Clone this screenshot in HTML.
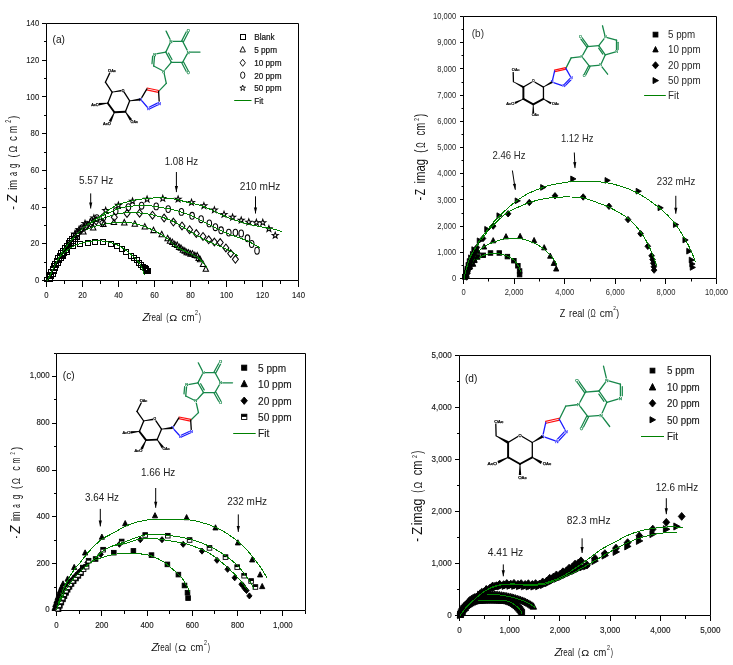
<!DOCTYPE html><html><head><meta charset="utf-8"><style>html,body{margin:0;padding:0;background:#fff;overflow:hidden}svg{display:block;will-change:transform}text{font-family:"Liberation Sans",sans-serif}.ns line{vector-effect:non-scaling-stroke}</style></head><body>
<svg width="733" height="665" viewBox="0 0 733 665">
<rect width="733" height="665" fill="#fff"/>
<path d="M46.5,280.5 L46.5,23.5 L298.5,23.5 L298.5,280.5 Z" fill="none" stroke="#000" stroke-width="1"/>
<line x1="46.50" y1="280.50" x2="46.50" y2="287.00" stroke="#000" stroke-width="1"/>
<line x1="64.50" y1="280.50" x2="64.50" y2="284.00" stroke="#000" stroke-width="1"/>
<line x1="82.50" y1="280.50" x2="82.50" y2="287.00" stroke="#000" stroke-width="1"/>
<line x1="100.50" y1="280.50" x2="100.50" y2="284.00" stroke="#000" stroke-width="1"/>
<line x1="118.50" y1="280.50" x2="118.50" y2="287.00" stroke="#000" stroke-width="1"/>
<line x1="136.50" y1="280.50" x2="136.50" y2="284.00" stroke="#000" stroke-width="1"/>
<line x1="154.50" y1="280.50" x2="154.50" y2="287.00" stroke="#000" stroke-width="1"/>
<line x1="172.50" y1="280.50" x2="172.50" y2="284.00" stroke="#000" stroke-width="1"/>
<line x1="190.50" y1="280.50" x2="190.50" y2="287.00" stroke="#000" stroke-width="1"/>
<line x1="208.50" y1="280.50" x2="208.50" y2="284.00" stroke="#000" stroke-width="1"/>
<line x1="226.50" y1="280.50" x2="226.50" y2="287.00" stroke="#000" stroke-width="1"/>
<line x1="244.50" y1="280.50" x2="244.50" y2="284.00" stroke="#000" stroke-width="1"/>
<line x1="262.50" y1="280.50" x2="262.50" y2="287.00" stroke="#000" stroke-width="1"/>
<line x1="280.50" y1="280.50" x2="280.50" y2="284.00" stroke="#000" stroke-width="1"/>
<line x1="298.50" y1="280.50" x2="298.50" y2="287.00" stroke="#000" stroke-width="1"/>
<line x1="42.00" y1="280.50" x2="46.50" y2="280.50" stroke="#000" stroke-width="1"/>
<line x1="44.00" y1="262.50" x2="46.50" y2="262.50" stroke="#000" stroke-width="1"/>
<line x1="42.00" y1="243.50" x2="46.50" y2="243.50" stroke="#000" stroke-width="1"/>
<line x1="44.00" y1="225.50" x2="46.50" y2="225.50" stroke="#000" stroke-width="1"/>
<line x1="42.00" y1="207.50" x2="46.50" y2="207.50" stroke="#000" stroke-width="1"/>
<line x1="44.00" y1="188.50" x2="46.50" y2="188.50" stroke="#000" stroke-width="1"/>
<line x1="42.00" y1="170.50" x2="46.50" y2="170.50" stroke="#000" stroke-width="1"/>
<line x1="44.00" y1="152.50" x2="46.50" y2="152.50" stroke="#000" stroke-width="1"/>
<line x1="42.00" y1="133.50" x2="46.50" y2="133.50" stroke="#000" stroke-width="1"/>
<line x1="44.00" y1="115.50" x2="46.50" y2="115.50" stroke="#000" stroke-width="1"/>
<line x1="42.00" y1="96.50" x2="46.50" y2="96.50" stroke="#000" stroke-width="1"/>
<line x1="44.00" y1="78.50" x2="46.50" y2="78.50" stroke="#000" stroke-width="1"/>
<line x1="42.00" y1="60.50" x2="46.50" y2="60.50" stroke="#000" stroke-width="1"/>
<line x1="44.00" y1="41.50" x2="46.50" y2="41.50" stroke="#000" stroke-width="1"/>
<line x1="42.00" y1="23.50" x2="46.50" y2="23.50" stroke="#000" stroke-width="1"/>
<text x="44.35" y="298.00" font-size="9.1" fill="#1a1a1a" textLength="4.30" lengthAdjust="spacingAndGlyphs" stroke="#1a1a1a" stroke-width="0.12">0</text>
<text x="78.20" y="298.00" font-size="9.1" fill="#1a1a1a" textLength="8.60" lengthAdjust="spacingAndGlyphs" stroke="#1a1a1a" stroke-width="0.12">20</text>
<text x="114.20" y="298.00" font-size="9.1" fill="#1a1a1a" textLength="8.60" lengthAdjust="spacingAndGlyphs" stroke="#1a1a1a" stroke-width="0.12">40</text>
<text x="150.20" y="298.00" font-size="9.1" fill="#1a1a1a" textLength="8.60" lengthAdjust="spacingAndGlyphs" stroke="#1a1a1a" stroke-width="0.12">60</text>
<text x="186.20" y="298.00" font-size="9.1" fill="#1a1a1a" textLength="8.60" lengthAdjust="spacingAndGlyphs" stroke="#1a1a1a" stroke-width="0.12">80</text>
<text x="220.05" y="298.00" font-size="9.1" fill="#1a1a1a" textLength="12.90" lengthAdjust="spacingAndGlyphs" stroke="#1a1a1a" stroke-width="0.12">100</text>
<text x="256.05" y="298.00" font-size="9.1" fill="#1a1a1a" textLength="12.90" lengthAdjust="spacingAndGlyphs" stroke="#1a1a1a" stroke-width="0.12">120</text>
<text x="292.05" y="298.00" font-size="9.1" fill="#1a1a1a" textLength="12.90" lengthAdjust="spacingAndGlyphs" stroke="#1a1a1a" stroke-width="0.12">140</text>
<text x="34.90" y="283.10" font-size="9.1" fill="#1a1a1a" textLength="4.30" lengthAdjust="spacingAndGlyphs" stroke="#1a1a1a" stroke-width="0.12">0</text>
<text x="30.60" y="246.39" font-size="9.1" fill="#1a1a1a" textLength="8.60" lengthAdjust="spacingAndGlyphs" stroke="#1a1a1a" stroke-width="0.12">20</text>
<text x="30.60" y="209.67" font-size="9.1" fill="#1a1a1a" textLength="8.60" lengthAdjust="spacingAndGlyphs" stroke="#1a1a1a" stroke-width="0.12">40</text>
<text x="30.60" y="172.96" font-size="9.1" fill="#1a1a1a" textLength="8.60" lengthAdjust="spacingAndGlyphs" stroke="#1a1a1a" stroke-width="0.12">60</text>
<text x="30.60" y="136.24" font-size="9.1" fill="#1a1a1a" textLength="8.60" lengthAdjust="spacingAndGlyphs" stroke="#1a1a1a" stroke-width="0.12">80</text>
<text x="26.30" y="99.53" font-size="9.1" fill="#1a1a1a" textLength="12.90" lengthAdjust="spacingAndGlyphs" stroke="#1a1a1a" stroke-width="0.12">100</text>
<text x="26.30" y="62.81" font-size="9.1" fill="#1a1a1a" textLength="12.90" lengthAdjust="spacingAndGlyphs" stroke="#1a1a1a" stroke-width="0.12">120</text>
<text x="26.30" y="26.10" font-size="9.1" fill="#1a1a1a" textLength="12.90" lengthAdjust="spacingAndGlyphs" stroke="#1a1a1a" stroke-width="0.12">140</text>
<path d="M463.5,278.5 L463.5,16.5 L716.5,16.5 L716.5,278.5 Z" fill="none" stroke="#000" stroke-width="1"/>
<line x1="463.50" y1="278.50" x2="463.50" y2="284.00" stroke="#000" stroke-width="1"/>
<line x1="488.50" y1="278.50" x2="488.50" y2="281.50" stroke="#000" stroke-width="1"/>
<line x1="514.50" y1="278.50" x2="514.50" y2="284.00" stroke="#000" stroke-width="1"/>
<line x1="539.50" y1="278.50" x2="539.50" y2="281.50" stroke="#000" stroke-width="1"/>
<line x1="564.50" y1="278.50" x2="564.50" y2="284.00" stroke="#000" stroke-width="1"/>
<line x1="590.50" y1="278.50" x2="590.50" y2="281.50" stroke="#000" stroke-width="1"/>
<line x1="615.50" y1="278.50" x2="615.50" y2="284.00" stroke="#000" stroke-width="1"/>
<line x1="640.50" y1="278.50" x2="640.50" y2="281.50" stroke="#000" stroke-width="1"/>
<line x1="665.50" y1="278.50" x2="665.50" y2="284.00" stroke="#000" stroke-width="1"/>
<line x1="691.50" y1="278.50" x2="691.50" y2="281.50" stroke="#000" stroke-width="1"/>
<line x1="716.50" y1="278.50" x2="716.50" y2="284.00" stroke="#000" stroke-width="1"/>
<line x1="460.00" y1="278.50" x2="463.50" y2="278.50" stroke="#000" stroke-width="1"/>
<line x1="461.50" y1="265.50" x2="463.50" y2="265.50" stroke="#000" stroke-width="1"/>
<line x1="460.00" y1="252.50" x2="463.50" y2="252.50" stroke="#000" stroke-width="1"/>
<line x1="461.50" y1="239.50" x2="463.50" y2="239.50" stroke="#000" stroke-width="1"/>
<line x1="460.00" y1="226.50" x2="463.50" y2="226.50" stroke="#000" stroke-width="1"/>
<line x1="461.50" y1="213.50" x2="463.50" y2="213.50" stroke="#000" stroke-width="1"/>
<line x1="460.00" y1="199.50" x2="463.50" y2="199.50" stroke="#000" stroke-width="1"/>
<line x1="461.50" y1="186.50" x2="463.50" y2="186.50" stroke="#000" stroke-width="1"/>
<line x1="460.00" y1="173.50" x2="463.50" y2="173.50" stroke="#000" stroke-width="1"/>
<line x1="461.50" y1="160.50" x2="463.50" y2="160.50" stroke="#000" stroke-width="1"/>
<line x1="460.00" y1="147.50" x2="463.50" y2="147.50" stroke="#000" stroke-width="1"/>
<line x1="461.50" y1="134.50" x2="463.50" y2="134.50" stroke="#000" stroke-width="1"/>
<line x1="460.00" y1="121.50" x2="463.50" y2="121.50" stroke="#000" stroke-width="1"/>
<line x1="461.50" y1="108.50" x2="463.50" y2="108.50" stroke="#000" stroke-width="1"/>
<line x1="460.00" y1="95.50" x2="463.50" y2="95.50" stroke="#000" stroke-width="1"/>
<line x1="461.50" y1="82.50" x2="463.50" y2="82.50" stroke="#000" stroke-width="1"/>
<line x1="460.00" y1="68.50" x2="463.50" y2="68.50" stroke="#000" stroke-width="1"/>
<line x1="461.50" y1="55.50" x2="463.50" y2="55.50" stroke="#000" stroke-width="1"/>
<line x1="460.00" y1="42.50" x2="463.50" y2="42.50" stroke="#000" stroke-width="1"/>
<line x1="461.50" y1="29.50" x2="463.50" y2="29.50" stroke="#000" stroke-width="1"/>
<line x1="460.00" y1="16.50" x2="463.50" y2="16.50" stroke="#000" stroke-width="1"/>
<text x="461.40" y="295.10" font-size="8.3" fill="#2a2a2a" textLength="4.20" lengthAdjust="spacingAndGlyphs">0</text>
<text x="504.65" y="295.10" font-size="8.3" fill="#2a2a2a" textLength="18.90" lengthAdjust="spacingAndGlyphs">2,000</text>
<text x="555.25" y="295.10" font-size="8.3" fill="#2a2a2a" textLength="18.90" lengthAdjust="spacingAndGlyphs">4,000</text>
<text x="605.85" y="295.10" font-size="8.3" fill="#2a2a2a" textLength="18.90" lengthAdjust="spacingAndGlyphs">6,000</text>
<text x="656.45" y="295.10" font-size="8.3" fill="#2a2a2a" textLength="18.90" lengthAdjust="spacingAndGlyphs">8,000</text>
<text x="704.95" y="295.10" font-size="8.3" fill="#2a2a2a" textLength="23.10" lengthAdjust="spacingAndGlyphs">10,000</text>
<text x="452.00" y="281.20" font-size="8.3" fill="#2a2a2a" textLength="4.20" lengthAdjust="spacingAndGlyphs">0</text>
<text x="437.30" y="255.00" font-size="8.3" fill="#2a2a2a" textLength="18.90" lengthAdjust="spacingAndGlyphs">1,000</text>
<text x="437.30" y="228.80" font-size="8.3" fill="#2a2a2a" textLength="18.90" lengthAdjust="spacingAndGlyphs">2,000</text>
<text x="437.30" y="202.60" font-size="8.3" fill="#2a2a2a" textLength="18.90" lengthAdjust="spacingAndGlyphs">3,000</text>
<text x="437.30" y="176.40" font-size="8.3" fill="#2a2a2a" textLength="18.90" lengthAdjust="spacingAndGlyphs">4,000</text>
<text x="437.30" y="150.20" font-size="8.3" fill="#2a2a2a" textLength="18.90" lengthAdjust="spacingAndGlyphs">5,000</text>
<text x="437.30" y="124.00" font-size="8.3" fill="#2a2a2a" textLength="18.90" lengthAdjust="spacingAndGlyphs">6,000</text>
<text x="437.30" y="97.80" font-size="8.3" fill="#2a2a2a" textLength="18.90" lengthAdjust="spacingAndGlyphs">7,000</text>
<text x="437.30" y="71.60" font-size="8.3" fill="#2a2a2a" textLength="18.90" lengthAdjust="spacingAndGlyphs">8,000</text>
<text x="437.30" y="45.40" font-size="8.3" fill="#2a2a2a" textLength="18.90" lengthAdjust="spacingAndGlyphs">9,000</text>
<text x="433.10" y="19.20" font-size="8.3" fill="#2a2a2a" textLength="23.10" lengthAdjust="spacingAndGlyphs">10,000</text>
<path d="M56.5,610.5 L56.5,353.5 L305.5,353.5 L305.5,610.5 Z" fill="none" stroke="#000" stroke-width="1"/>
<line x1="56.50" y1="610.50" x2="56.50" y2="616.00" stroke="#000" stroke-width="1"/>
<line x1="79.50" y1="610.50" x2="79.50" y2="614.00" stroke="#000" stroke-width="1"/>
<line x1="101.50" y1="610.50" x2="101.50" y2="616.00" stroke="#000" stroke-width="1"/>
<line x1="124.50" y1="610.50" x2="124.50" y2="614.00" stroke="#000" stroke-width="1"/>
<line x1="147.50" y1="610.50" x2="147.50" y2="616.00" stroke="#000" stroke-width="1"/>
<line x1="169.50" y1="610.50" x2="169.50" y2="614.00" stroke="#000" stroke-width="1"/>
<line x1="192.50" y1="610.50" x2="192.50" y2="616.00" stroke="#000" stroke-width="1"/>
<line x1="214.50" y1="610.50" x2="214.50" y2="614.00" stroke="#000" stroke-width="1"/>
<line x1="237.50" y1="610.50" x2="237.50" y2="616.00" stroke="#000" stroke-width="1"/>
<line x1="260.50" y1="610.50" x2="260.50" y2="614.00" stroke="#000" stroke-width="1"/>
<line x1="282.50" y1="610.50" x2="282.50" y2="616.00" stroke="#000" stroke-width="1"/>
<line x1="305.50" y1="610.50" x2="305.50" y2="614.00" stroke="#000" stroke-width="1"/>
<line x1="52.00" y1="610.50" x2="56.50" y2="610.50" stroke="#000" stroke-width="1"/>
<line x1="54.00" y1="587.50" x2="56.50" y2="587.50" stroke="#000" stroke-width="1"/>
<line x1="52.00" y1="563.50" x2="56.50" y2="563.50" stroke="#000" stroke-width="1"/>
<line x1="54.00" y1="540.50" x2="56.50" y2="540.50" stroke="#000" stroke-width="1"/>
<line x1="52.00" y1="516.50" x2="56.50" y2="516.50" stroke="#000" stroke-width="1"/>
<line x1="54.00" y1="493.50" x2="56.50" y2="493.50" stroke="#000" stroke-width="1"/>
<line x1="52.00" y1="470.50" x2="56.50" y2="470.50" stroke="#000" stroke-width="1"/>
<line x1="54.00" y1="446.50" x2="56.50" y2="446.50" stroke="#000" stroke-width="1"/>
<line x1="52.00" y1="423.50" x2="56.50" y2="423.50" stroke="#000" stroke-width="1"/>
<line x1="54.00" y1="399.50" x2="56.50" y2="399.50" stroke="#000" stroke-width="1"/>
<line x1="52.00" y1="376.50" x2="56.50" y2="376.50" stroke="#000" stroke-width="1"/>
<line x1="54.00" y1="353.50" x2="56.50" y2="353.50" stroke="#000" stroke-width="1"/>
<text x="54.30" y="627.80" font-size="9.4" fill="#1a1a1a" textLength="4.39" lengthAdjust="spacingAndGlyphs" stroke="#1a1a1a" stroke-width="0.15">0</text>
<text x="95.19" y="627.80" font-size="9.4" fill="#1a1a1a" textLength="13.17" lengthAdjust="spacingAndGlyphs" stroke="#1a1a1a" stroke-width="0.15">200</text>
<text x="140.46" y="627.80" font-size="9.4" fill="#1a1a1a" textLength="13.17" lengthAdjust="spacingAndGlyphs" stroke="#1a1a1a" stroke-width="0.15">400</text>
<text x="185.73" y="627.80" font-size="9.4" fill="#1a1a1a" textLength="13.17" lengthAdjust="spacingAndGlyphs" stroke="#1a1a1a" stroke-width="0.15">600</text>
<text x="231.00" y="627.80" font-size="9.4" fill="#1a1a1a" textLength="13.17" lengthAdjust="spacingAndGlyphs" stroke="#1a1a1a" stroke-width="0.15">800</text>
<text x="272.99" y="627.80" font-size="9.4" fill="#1a1a1a" textLength="19.76" lengthAdjust="spacingAndGlyphs" stroke="#1a1a1a" stroke-width="0.15">1,000</text>
<text x="45.21" y="612.40" font-size="9.4" fill="#1a1a1a" textLength="4.39" lengthAdjust="spacingAndGlyphs" stroke="#1a1a1a" stroke-width="0.15">0</text>
<text x="36.43" y="565.60" font-size="9.4" fill="#1a1a1a" textLength="13.17" lengthAdjust="spacingAndGlyphs" stroke="#1a1a1a" stroke-width="0.15">200</text>
<text x="36.43" y="518.80" font-size="9.4" fill="#1a1a1a" textLength="13.17" lengthAdjust="spacingAndGlyphs" stroke="#1a1a1a" stroke-width="0.15">400</text>
<text x="36.43" y="472.00" font-size="9.4" fill="#1a1a1a" textLength="13.17" lengthAdjust="spacingAndGlyphs" stroke="#1a1a1a" stroke-width="0.15">600</text>
<text x="36.43" y="425.20" font-size="9.4" fill="#1a1a1a" textLength="13.17" lengthAdjust="spacingAndGlyphs" stroke="#1a1a1a" stroke-width="0.15">800</text>
<text x="29.84" y="378.40" font-size="9.4" fill="#1a1a1a" textLength="19.76" lengthAdjust="spacingAndGlyphs" stroke="#1a1a1a" stroke-width="0.15">1,000</text>
<path d="M459.5,615.5 L459.5,355.5 L710.5,355.5 L710.5,615.5 Z" fill="none" stroke="#000" stroke-width="1"/>
<line x1="459.50" y1="615.50" x2="459.50" y2="621.00" stroke="#000" stroke-width="1"/>
<line x1="484.50" y1="615.50" x2="484.50" y2="619.00" stroke="#000" stroke-width="1"/>
<line x1="509.50" y1="615.50" x2="509.50" y2="621.00" stroke="#000" stroke-width="1"/>
<line x1="534.50" y1="615.50" x2="534.50" y2="619.00" stroke="#000" stroke-width="1"/>
<line x1="559.50" y1="615.50" x2="559.50" y2="621.00" stroke="#000" stroke-width="1"/>
<line x1="585.50" y1="615.50" x2="585.50" y2="619.00" stroke="#000" stroke-width="1"/>
<line x1="610.50" y1="615.50" x2="610.50" y2="621.00" stroke="#000" stroke-width="1"/>
<line x1="635.50" y1="615.50" x2="635.50" y2="619.00" stroke="#000" stroke-width="1"/>
<line x1="660.50" y1="615.50" x2="660.50" y2="621.00" stroke="#000" stroke-width="1"/>
<line x1="685.50" y1="615.50" x2="685.50" y2="619.00" stroke="#000" stroke-width="1"/>
<line x1="710.50" y1="615.50" x2="710.50" y2="621.00" stroke="#000" stroke-width="1"/>
<line x1="455.00" y1="615.50" x2="459.50" y2="615.50" stroke="#000" stroke-width="1"/>
<line x1="457.00" y1="589.50" x2="459.50" y2="589.50" stroke="#000" stroke-width="1"/>
<line x1="455.00" y1="563.50" x2="459.50" y2="563.50" stroke="#000" stroke-width="1"/>
<line x1="457.00" y1="537.50" x2="459.50" y2="537.50" stroke="#000" stroke-width="1"/>
<line x1="455.00" y1="511.50" x2="459.50" y2="511.50" stroke="#000" stroke-width="1"/>
<line x1="457.00" y1="485.50" x2="459.50" y2="485.50" stroke="#000" stroke-width="1"/>
<line x1="455.00" y1="459.50" x2="459.50" y2="459.50" stroke="#000" stroke-width="1"/>
<line x1="457.00" y1="433.50" x2="459.50" y2="433.50" stroke="#000" stroke-width="1"/>
<line x1="455.00" y1="407.50" x2="459.50" y2="407.50" stroke="#000" stroke-width="1"/>
<line x1="457.00" y1="381.50" x2="459.50" y2="381.50" stroke="#000" stroke-width="1"/>
<line x1="455.00" y1="355.50" x2="459.50" y2="355.50" stroke="#000" stroke-width="1"/>
<text x="457.25" y="632.50" font-size="9.0" fill="#1a1a1a" textLength="4.50" lengthAdjust="spacingAndGlyphs" stroke="#1a1a1a" stroke-width="0.15">0</text>
<text x="499.57" y="632.50" font-size="9.0" fill="#1a1a1a" textLength="20.27" lengthAdjust="spacingAndGlyphs" stroke="#1a1a1a" stroke-width="0.15">1,000</text>
<text x="549.77" y="632.50" font-size="9.0" fill="#1a1a1a" textLength="20.27" lengthAdjust="spacingAndGlyphs" stroke="#1a1a1a" stroke-width="0.15">2,000</text>
<text x="599.97" y="632.50" font-size="9.0" fill="#1a1a1a" textLength="20.27" lengthAdjust="spacingAndGlyphs" stroke="#1a1a1a" stroke-width="0.15">3,000</text>
<text x="650.17" y="632.50" font-size="9.0" fill="#1a1a1a" textLength="20.27" lengthAdjust="spacingAndGlyphs" stroke="#1a1a1a" stroke-width="0.15">4,000</text>
<text x="700.37" y="632.50" font-size="9.0" fill="#1a1a1a" textLength="20.27" lengthAdjust="spacingAndGlyphs" stroke="#1a1a1a" stroke-width="0.15">5,000</text>
<text x="447.30" y="617.80" font-size="9.0" fill="#1a1a1a" textLength="4.50" lengthAdjust="spacingAndGlyphs" stroke="#1a1a1a" stroke-width="0.15">0</text>
<text x="431.53" y="565.80" font-size="9.0" fill="#1a1a1a" textLength="20.27" lengthAdjust="spacingAndGlyphs" stroke="#1a1a1a" stroke-width="0.15">1,000</text>
<text x="431.53" y="513.80" font-size="9.0" fill="#1a1a1a" textLength="20.27" lengthAdjust="spacingAndGlyphs" stroke="#1a1a1a" stroke-width="0.15">2,000</text>
<text x="431.53" y="461.80" font-size="9.0" fill="#1a1a1a" textLength="20.27" lengthAdjust="spacingAndGlyphs" stroke="#1a1a1a" stroke-width="0.15">3,000</text>
<text x="431.53" y="409.80" font-size="9.0" fill="#1a1a1a" textLength="20.27" lengthAdjust="spacingAndGlyphs" stroke="#1a1a1a" stroke-width="0.15">4,000</text>
<text x="431.53" y="357.80" font-size="9.0" fill="#1a1a1a" textLength="20.27" lengthAdjust="spacingAndGlyphs" stroke="#1a1a1a" stroke-width="0.15">5,000</text>
<text x="52.60" y="42.50" font-size="11" fill="#111" textLength="12.37" lengthAdjust="spacingAndGlyphs">(a)</text>
<text x="471.80" y="37.20" font-size="10.5" fill="#333" textLength="12.19" lengthAdjust="spacingAndGlyphs">(b)</text>
<text x="62.80" y="378.80" font-size="11" fill="#111" textLength="11.80" lengthAdjust="spacingAndGlyphs">(c)</text>
<text x="465.00" y="381.80" font-size="11" fill="#111" textLength="12.37" lengthAdjust="spacingAndGlyphs">(d)</text>
<text transform="translate(16.90,209.80) rotate(-90) scale(0.8926,1)" x="-0.00" y="0" font-size="12.9" fill="#111">-</text>
<text transform="translate(16.90,202.80) rotate(-90) scale(0.9091,1)" x="0.28" y="0" font-size="14" fill="#111" font-style="italic">Z</text>
<text transform="translate(16.90,189.80) rotate(-90) scale(0.7240,1)" x="-0.00" y="0" font-size="12.9" fill="#111">im</text>
<text transform="translate(16.90,176.10) rotate(-90) scale(0.5537,1)" x="-0.00" y="0" font-size="12.9" fill="#111">a</text>
<text transform="translate(16.90,168.10) rotate(-90) scale(0.5814,1)" x="-0.00" y="0" font-size="12.9" fill="#111">g</text>
<text transform="translate(16.90,157.60) rotate(-90) scale(0.7282,1)" x="-0.00" y="0" font-size="12.9" fill="#111">(</text>
<text transform="translate(16.90,152.60) rotate(-90) scale(0.8428,1)" x="-0.00" y="0" font-size="10.6" fill="#111">Ω</text>
<text transform="translate(16.90,140.90) rotate(-90) scale(0.7597,1)" x="-0.00" y="0" font-size="12.9" fill="#111">c</text>
<text transform="translate(16.90,133.00) rotate(-90) scale(0.6538,1)" x="-0.00" y="0" font-size="12.9" fill="#111">m</text>
<text transform="translate(11.10,122.70) rotate(-90) scale(0.6165,1)" x="-0.00" y="0" font-size="8.4" fill="#111">2</text>
<text transform="translate(16.90,118.80) rotate(-90) scale(0.6812,1)" x="-0.00" y="0" font-size="12.9" fill="#111">)</text>
<text transform="translate(425.20,200.60) rotate(-90) scale(0.7682,1)" x="-0.00" y="0" font-size="14.2" fill="#111">-</text>
<text transform="translate(425.20,195.20) rotate(-90) scale(0.7389,1)" x="-0.00" y="0" font-size="14.2" fill="#111">Z</text>
<text transform="translate(425.20,183.40) rotate(-90) scale(0.7983,1)" x="-0.00" y="0" font-size="14.2" fill="#111">imag</text>
<text transform="translate(425.20,152.80) rotate(-90) scale(0.6829,1)" x="-0.00" y="0" font-size="14.2" fill="#111">(</text>
<text transform="translate(425.20,147.80) rotate(-90) scale(0.5902,1)" x="-0.00" y="0" font-size="12.2" fill="#111">Ω</text>
<text transform="translate(425.20,135.60) rotate(-90) scale(0.6672,1)" x="-0.00" y="0" font-size="14.2" fill="#111">cm</text>
<text transform="translate(419.30,120.80) rotate(-90) scale(0.6181,1)" x="-0.00" y="0" font-size="7.8" fill="#111">2</text>
<text transform="translate(425.20,117.10) rotate(-90) scale(0.6615,1)" x="-0.00" y="0" font-size="14.2" fill="#111">)</text>
<text transform="translate(20.10,538.20) rotate(-90) scale(0.5168,1)" x="-0.00" y="0" font-size="12.9" fill="#111">-</text>
<text transform="translate(20.10,533.80) rotate(-90) scale(0.9307,1)" x="0.28" y="0" font-size="14" fill="#111" font-style="italic">Z</text>
<text transform="translate(20.10,521.00) rotate(-90) scale(0.6947,1)" x="-0.00" y="0" font-size="12.9" fill="#111">im</text>
<text transform="translate(20.10,507.80) rotate(-90) scale(0.4845,1)" x="-0.00" y="0" font-size="12.9" fill="#111">a</text>
<text transform="translate(20.10,499.30) rotate(-90) scale(0.6229,1)" x="-0.00" y="0" font-size="12.9" fill="#111">g</text>
<text transform="translate(20.10,489.10) rotate(-90) scale(0.7282,1)" x="-0.00" y="0" font-size="12.9" fill="#111">(</text>
<text transform="translate(20.10,484.20) rotate(-90) scale(0.7925,1)" x="-0.00" y="0" font-size="10.6" fill="#111">Ω</text>
<text transform="translate(20.10,470.70) rotate(-90) scale(0.7132,1)" x="-0.00" y="0" font-size="12.9" fill="#111">c</text>
<text transform="translate(20.10,463.40) rotate(-90) scale(0.5417,1)" x="-0.00" y="0" font-size="12.9" fill="#111">m</text>
<text transform="translate(14.60,454.40) rotate(-90) scale(0.5309,1)" x="-0.00" y="0" font-size="7.4" fill="#111">2</text>
<text transform="translate(20.10,449.90) rotate(-90) scale(0.7282,1)" x="-0.00" y="0" font-size="12.9" fill="#111">)</text>
<text transform="translate(422.20,541.70) rotate(-90) scale(0.7786,1)" x="-0.00" y="0" font-size="14.4" fill="#111">-</text>
<text transform="translate(422.20,535.10) rotate(-90) scale(0.9449,1)" x="-0.00" y="0" font-size="14.4" fill="#111">Z</text>
<text transform="translate(422.20,525.20) rotate(-90) scale(0.8481,1)" x="-0.00" y="0" font-size="14.4" fill="#111">imag</text>
<text transform="translate(422.20,492.80) rotate(-90) scale(0.6103,1)" x="-0.00" y="0" font-size="14.4" fill="#111">(</text>
<text transform="translate(422.20,488.60) rotate(-90) scale(0.7571,1)" x="-0.00" y="0" font-size="11.8" fill="#111">Ω</text>
<text transform="translate(422.20,475.20) rotate(-90) scale(0.7728,1)" x="-0.00" y="0" font-size="14.4" fill="#111">cm</text>
<text transform="translate(417.00,457.90) rotate(-90) scale(0.6814,1)" x="-0.00" y="0" font-size="7.6" fill="#111">2</text>
<text transform="translate(422.20,453.70) rotate(-90) scale(0.6313,1)" x="-0.00" y="0" font-size="14.4" fill="#111">)</text>
<text transform="translate(142.30,321.40) scale(0.9535,1)" x="0.23" y="0" font-size="11.6" fill="#111" font-style="italic">Z</text>
<text transform="translate(148.70,321.40) scale(0.7218,1)" x="-0.00" y="0" font-size="11.2" fill="#111">real</text>
<text transform="translate(166.20,321.40) scale(0.6494,1)" x="-0.00" y="0" font-size="11.2" fill="#111">(</text>
<text transform="translate(169.30,321.40) scale(1.0884,1)" x="-0.00" y="0" font-size="9.8" fill="#111">Ω</text>
<text transform="translate(181.60,321.40) scale(0.8660,1)" x="-0.00" y="0" font-size="11.2" fill="#111">cm</text>
<text transform="translate(195.10,315.30) scale(0.7653,1)" x="-0.00" y="0" font-size="7.0" fill="#111">2</text>
<text transform="translate(198.80,321.40) scale(0.5952,1)" x="-0.00" y="0" font-size="11.2" fill="#111">)</text>
<text transform="translate(151.20,651.30) scale(0.9535,1)" x="0.23" y="0" font-size="11.6" fill="#111" font-style="italic">Z</text>
<text transform="translate(157.60,651.30) scale(0.7218,1)" x="-0.00" y="0" font-size="11.2" fill="#111">real</text>
<text transform="translate(175.10,651.30) scale(0.6494,1)" x="-0.00" y="0" font-size="11.2" fill="#111">(</text>
<text transform="translate(178.20,651.30) scale(1.0884,1)" x="-0.00" y="0" font-size="9.8" fill="#111">Ω</text>
<text transform="translate(190.50,651.30) scale(0.8660,1)" x="-0.00" y="0" font-size="11.2" fill="#111">cm</text>
<text transform="translate(204.00,645.20) scale(0.7653,1)" x="-0.00" y="0" font-size="7.0" fill="#111">2</text>
<text transform="translate(207.70,651.30) scale(0.5952,1)" x="-0.00" y="0" font-size="11.2" fill="#111">)</text>
<text transform="translate(554.20,656.40) scale(0.9535,1)" x="0.23" y="0" font-size="11.6" fill="#111" font-style="italic">Z</text>
<text transform="translate(560.60,656.40) scale(0.7218,1)" x="-0.00" y="0" font-size="11.2" fill="#111">real</text>
<text transform="translate(578.10,656.40) scale(0.6494,1)" x="-0.00" y="0" font-size="11.2" fill="#111">(</text>
<text transform="translate(581.20,656.40) scale(1.0884,1)" x="-0.00" y="0" font-size="9.8" fill="#111">Ω</text>
<text transform="translate(593.50,656.40) scale(0.8660,1)" x="-0.00" y="0" font-size="11.2" fill="#111">cm</text>
<text transform="translate(607.00,650.30) scale(0.7653,1)" x="-0.00" y="0" font-size="7.0" fill="#111">2</text>
<text transform="translate(610.70,656.40) scale(0.5952,1)" x="-0.00" y="0" font-size="11.2" fill="#111">)</text>
<text transform="translate(559.80,316.80) scale(0.8272,1)" x="-0.00" y="0" font-size="10.9" fill="#111">Z</text>
<text transform="translate(569.10,316.80) scale(0.8405,1)" x="-0.00" y="0" font-size="10.9" fill="#111">real</text>
<text transform="translate(587.70,316.80) scale(0.6394,1)" x="-0.00" y="0" font-size="10.9" fill="#111">(</text>
<text transform="translate(590.60,316.80) scale(0.6603,1)" x="-0.00" y="0" font-size="10.5" fill="#111">Ω</text>
<text transform="translate(599.70,316.80) scale(0.9243,1)" x="-0.00" y="0" font-size="10.9" fill="#111">cm</text>
<text transform="translate(613.30,310.20) scale(0.7776,1)" x="-0.00" y="0" font-size="6.2" fill="#111">2</text>
<text transform="translate(616.20,316.80) scale(0.7784,1)" x="-0.00" y="0" font-size="10.9" fill="#111">)</text>
<rect x="240.50" y="34.50" width="5.00" height="5.00" fill="none" stroke="#000" stroke-width="1"/>
<text x="254.20" y="40.00" font-size="9.0" fill="#111" textLength="20.49" lengthAdjust="spacingAndGlyphs" stroke="#111" stroke-width="0.2">Blank</text>
<path d="M242.70,46.53 L245.40,51.93 L240.00,51.93Z" fill="none" stroke="#000" stroke-width="0.9"/>
<text x="254.20" y="52.80" font-size="9.0" fill="#111" textLength="22.76" lengthAdjust="spacingAndGlyphs" stroke="#111" stroke-width="0.2">5 ppm</text>
<path d="M242.70,59.29 L245.40,62.80 L242.70,66.31 L240.00,62.80Z" fill="none" stroke="#000" stroke-width="0.9"/>
<text x="254.20" y="66.10" font-size="9.0" fill="#111" textLength="27.31" lengthAdjust="spacingAndGlyphs" stroke="#111" stroke-width="0.2">10 ppm</text>
<ellipse cx="242.70" cy="75.20" rx="2.16" ry="3.24" fill="none" stroke="#000" stroke-width="0.9"/>
<text x="254.20" y="78.50" font-size="9.0" fill="#111" textLength="27.31" lengthAdjust="spacingAndGlyphs" stroke="#111" stroke-width="0.2">20 ppm</text>
<path d="M242.70,85.13 L243.41,87.12 L245.52,87.18 L243.86,88.48 L244.45,90.50 L242.70,89.31 L240.95,90.50 L241.54,88.48 L239.88,87.18 L241.99,87.12Z" fill="none" stroke="#000" stroke-width="0.9"/>
<text x="254.20" y="91.40" font-size="9.0" fill="#111" textLength="27.31" lengthAdjust="spacingAndGlyphs" stroke="#111" stroke-width="0.2">50 ppm</text>
<line x1="234.20" y1="100.50" x2="251.50" y2="100.50" stroke="#008000" stroke-width="1.0"/>
<text x="254.20" y="103.80" font-size="9.0" fill="#111" textLength="9.10" lengthAdjust="spacingAndGlyphs" stroke="#111" stroke-width="0.2">Fit</text>
<rect x="653.10" y="32.20" width="4.80" height="4.80" fill="#000" stroke="#000" stroke-width="0.9"/>
<text x="668.00" y="38.20" font-size="10" fill="#2a2a2a" textLength="27.23" lengthAdjust="spacingAndGlyphs">5 ppm</text>
<path d="M655.50,46.53 L658.20,51.93 L652.80,51.93Z" fill="#000" stroke="#000" stroke-width="0.9"/>
<text x="668.00" y="53.10" font-size="10" fill="#2a2a2a" textLength="32.68" lengthAdjust="spacingAndGlyphs">10 ppm</text>
<path d="M655.50,61.73 L658.60,65.30 L655.50,68.86 L652.40,65.30Z" fill="#000" stroke="#000" stroke-width="0.9"/>
<text x="668.00" y="68.90" font-size="10" fill="#2a2a2a" textLength="32.68" lengthAdjust="spacingAndGlyphs">20 ppm</text>
<path d="M653.02,77.57 L658.52,80.60 L653.02,83.62Z" fill="#000" stroke="#000" stroke-width="0.9"/>
<text x="668.00" y="84.20" font-size="10" fill="#2a2a2a" textLength="32.68" lengthAdjust="spacingAndGlyphs">50 ppm</text>
<line x1="644.10" y1="95.50" x2="665.80" y2="95.50" stroke="#008000" stroke-width="1.0"/>
<text x="668.00" y="98.70" font-size="10" fill="#2a2a2a" textLength="10.89" lengthAdjust="spacingAndGlyphs">Fit</text>
<rect x="241.65" y="365.15" width="5.10" height="5.10" fill="#000" stroke="#000" stroke-width="0.9"/>
<text x="258.10" y="371.50" font-size="10.5" fill="#1a1a1a" textLength="28.01" lengthAdjust="spacingAndGlyphs" stroke="#1a1a1a" stroke-width="0.15">5 ppm</text>
<path d="M244.20,380.28 L247.40,386.68 L241.00,386.68Z" fill="#000" stroke="#000" stroke-width="0.9"/>
<text x="258.10" y="387.60" font-size="10.5" fill="#1a1a1a" textLength="33.62" lengthAdjust="spacingAndGlyphs" stroke="#1a1a1a" stroke-width="0.15">10 ppm</text>
<path d="M244.20,397.02 L247.40,400.70 L244.20,404.38 L241.00,400.70Z" fill="#000" stroke="#000" stroke-width="0.9"/>
<text x="258.10" y="404.50" font-size="10.5" fill="#1a1a1a" textLength="33.62" lengthAdjust="spacingAndGlyphs" stroke="#1a1a1a" stroke-width="0.15">20 ppm</text>
<rect x="241.55" y="414.25" width="5.30" height="5.30" fill="#fff" stroke="#000" stroke-width="0.9"/>
<rect x="241.55" y="414.25" width="5.30" height="2.65" fill="#000"/>
<text x="258.10" y="420.70" font-size="10.5" fill="#1a1a1a" textLength="33.62" lengthAdjust="spacingAndGlyphs" stroke="#1a1a1a" stroke-width="0.15">50 ppm</text>
<line x1="233.20" y1="433.50" x2="255.70" y2="433.50" stroke="#008000" stroke-width="1.0"/>
<text x="258.10" y="437.30" font-size="10.5" fill="#1a1a1a" textLength="11.20" lengthAdjust="spacingAndGlyphs" stroke="#1a1a1a" stroke-width="0.15">Fit</text>
<rect x="650.10" y="368.20" width="4.80" height="4.80" fill="#000" stroke="#000" stroke-width="0.9"/>
<text x="667.10" y="374.30" font-size="10.3" fill="#1a1a1a" textLength="27.19" lengthAdjust="spacingAndGlyphs" stroke="#1a1a1a" stroke-width="0.15">5 ppm</text>
<path d="M652.50,383.53 L655.75,390.03 L649.25,390.03Z" fill="#000" stroke="#000" stroke-width="0.9"/>
<text x="667.10" y="390.80" font-size="10.3" fill="#1a1a1a" textLength="32.63" lengthAdjust="spacingAndGlyphs" stroke="#1a1a1a" stroke-width="0.15">10 ppm</text>
<path d="M652.50,399.56 L655.75,403.30 L652.50,407.04 L649.25,403.30Z" fill="#000" stroke="#000" stroke-width="0.9"/>
<text x="667.10" y="407.00" font-size="10.3" fill="#1a1a1a" textLength="32.63" lengthAdjust="spacingAndGlyphs" stroke="#1a1a1a" stroke-width="0.15">20 ppm</text>
<path d="M649.98,416.72 L655.58,419.80 L649.98,422.88Z" fill="#000" stroke="#000" stroke-width="0.9"/>
<text x="667.10" y="423.50" font-size="10.3" fill="#1a1a1a" textLength="32.63" lengthAdjust="spacingAndGlyphs" stroke="#1a1a1a" stroke-width="0.15">50 ppm</text>
<line x1="641.00" y1="436.50" x2="664.00" y2="436.50" stroke="#008000" stroke-width="1.0"/>
<text x="667.10" y="440.20" font-size="10.3" fill="#1a1a1a" textLength="10.87" lengthAdjust="spacingAndGlyphs" stroke="#1a1a1a" stroke-width="0.15">Fit</text>
<text x="78.90" y="183.90" font-size="11.2" fill="#222" textLength="34.40" lengthAdjust="spacingAndGlyphs">5.57 Hz</text>
<line x1="90.70" y1="193.40" x2="90.70" y2="208.50" stroke="#000" stroke-width="1.0"/>
<path d="M90.70,208.50 L89.10,202.50 L92.30,202.50Z" fill="#000"/>
<text x="164.70" y="164.80" font-size="11.2" fill="#222" textLength="33.40" lengthAdjust="spacingAndGlyphs">1.08 Hz</text>
<line x1="176.40" y1="172.00" x2="176.40" y2="192.10" stroke="#000" stroke-width="1.0"/>
<path d="M176.40,192.10 L174.80,186.10 L178.00,186.10Z" fill="#000"/>
<text x="239.80" y="190.00" font-size="11.2" fill="#222" textLength="40.50" lengthAdjust="spacingAndGlyphs">210 mHz</text>
<line x1="255.50" y1="196.30" x2="255.50" y2="213.50" stroke="#000" stroke-width="1.0"/>
<path d="M255.50,213.50 L253.90,207.50 L257.10,207.50Z" fill="#000"/>
<text x="492.50" y="159.00" font-size="10.5" fill="#2a2a2a" textLength="32.90" lengthAdjust="spacingAndGlyphs">2.46 Hz</text>
<line x1="512.40" y1="170.50" x2="515.30" y2="189.80" stroke="#000" stroke-width="1.0"/>
<path d="M515.30,189.80 L512.83,184.10 L515.99,183.63Z" fill="#000"/>
<text x="561.00" y="142.10" font-size="10.5" fill="#2a2a2a" textLength="32.50" lengthAdjust="spacingAndGlyphs">1.12 Hz</text>
<line x1="574.30" y1="152.50" x2="575.00" y2="168.10" stroke="#000" stroke-width="1.0"/>
<path d="M575.00,168.10 L573.13,162.18 L576.33,162.03Z" fill="#000"/>
<text x="656.80" y="185.30" font-size="10.5" fill="#2a2a2a" textLength="38.60" lengthAdjust="spacingAndGlyphs">232 mHz</text>
<line x1="675.80" y1="195.80" x2="675.80" y2="213.70" stroke="#000" stroke-width="1.0"/>
<path d="M675.80,213.70 L674.20,207.70 L677.40,207.70Z" fill="#000"/>
<text x="85.10" y="500.80" font-size="11.2" fill="#222" textLength="33.80" lengthAdjust="spacingAndGlyphs">3.64 Hz</text>
<line x1="100.30" y1="508.90" x2="100.30" y2="526.40" stroke="#000" stroke-width="1.0"/>
<path d="M100.30,526.40 L98.70,520.40 L101.90,520.40Z" fill="#000"/>
<text x="141.00" y="475.80" font-size="11.2" fill="#222" textLength="34.30" lengthAdjust="spacingAndGlyphs">1.66 Hz</text>
<line x1="155.70" y1="488.00" x2="155.70" y2="507.80" stroke="#000" stroke-width="1.0"/>
<path d="M155.70,507.80 L154.10,501.80 L157.30,501.80Z" fill="#000"/>
<text x="227.20" y="504.60" font-size="11.2" fill="#222" textLength="39.90" lengthAdjust="spacingAndGlyphs">232 mHz</text>
<line x1="238.30" y1="514.40" x2="238.30" y2="531.90" stroke="#000" stroke-width="1.0"/>
<path d="M238.30,531.90 L236.70,525.90 L239.90,525.90Z" fill="#000"/>
<text x="487.80" y="555.70" font-size="11.2" fill="#222" textLength="35.40" lengthAdjust="spacingAndGlyphs">4.41 Hz</text>
<line x1="503.30" y1="564.40" x2="503.30" y2="576.30" stroke="#000" stroke-width="1.0"/>
<path d="M503.30,576.30 L501.70,570.30 L504.90,570.30Z" fill="#000"/>
<text x="566.80" y="524.00" font-size="11.2" fill="#222" textLength="43.70" lengthAdjust="spacingAndGlyphs">82.3 mHz</text>
<line x1="582.10" y1="538.30" x2="582.10" y2="553.00" stroke="#000" stroke-width="1.0"/>
<path d="M582.10,553.00 L580.50,547.00 L583.70,547.00Z" fill="#000"/>
<text x="655.70" y="490.90" font-size="11.2" fill="#222" textLength="42.50" lengthAdjust="spacingAndGlyphs">12.6 mHz</text>
<line x1="666.30" y1="498.20" x2="666.30" y2="514.20" stroke="#000" stroke-width="1.0"/>
<path d="M666.30,514.20 L664.70,508.20 L667.90,508.20Z" fill="#000"/>
<g>
<line x1="171.00" y1="41.30" x2="166.10" y2="31.10" stroke="#17874a" stroke-width="1.3" stroke-linecap="round"/>
<line x1="171.00" y1="41.30" x2="182.60" y2="41.30" stroke="#17874a" stroke-width="1.3" stroke-linecap="round"/>
<line x1="183.49" y1="41.75" x2="188.37" y2="32.18" stroke="#17874a" stroke-width="1.2349999999999999" stroke-linecap="round"/>
<line x1="181.71" y1="40.85" x2="186.58" y2="31.27" stroke="#17874a" stroke-width="1.2349999999999999" stroke-linecap="round"/>
<line x1="182.60" y1="41.30" x2="188.20" y2="52.10" stroke="#17874a" stroke-width="1.3" stroke-linecap="round"/>
<line x1="188.20" y1="52.10" x2="200.00" y2="52.10" stroke="#17874a" stroke-width="1.3" stroke-linecap="round"/>
<line x1="188.20" y1="52.10" x2="182.60" y2="62.30" stroke="#17874a" stroke-width="1.3" stroke-linecap="round"/>
<line x1="181.72" y1="62.77" x2="186.57" y2="71.95" stroke="#17874a" stroke-width="1.2349999999999999" stroke-linecap="round"/>
<line x1="183.48" y1="61.83" x2="188.34" y2="71.02" stroke="#17874a" stroke-width="1.2349999999999999" stroke-linecap="round"/>
<line x1="182.60" y1="62.30" x2="171.30" y2="62.30" stroke="#17874a" stroke-width="1.3" stroke-linecap="round"/>
<line x1="165.80" y1="52.10" x2="171.30" y2="62.30" stroke="#17874a" stroke-width="1.3" stroke-linecap="round"/>
<line x1="168.46" y1="53.03" x2="171.98" y2="59.56" stroke="#17874a" stroke-width="1.2349999999999999" stroke-linecap="round"/>
<line x1="165.80" y1="52.10" x2="171.00" y2="41.30" stroke="#17874a" stroke-width="1.3" stroke-linecap="round"/>
<line x1="165.80" y1="52.10" x2="154.70" y2="54.20" stroke="#17874a" stroke-width="1.3" stroke-linecap="round"/>
<line x1="154.70" y1="54.20" x2="153.70" y2="66.00" stroke="#17874a" stroke-width="1.3" stroke-linecap="round"/>
<line x1="152.63" y1="56.16" x2="151.99" y2="63.72" stroke="#17874a" stroke-width="1.2349999999999999" stroke-linecap="round"/>
<line x1="153.70" y1="66.00" x2="163.70" y2="71.30" stroke="#17874a" stroke-width="1.3" stroke-linecap="round"/>
<line x1="163.70" y1="71.30" x2="171.30" y2="62.30" stroke="#17874a" stroke-width="1.3" stroke-linecap="round"/>
<line x1="163.70" y1="71.30" x2="166.30" y2="83.40" stroke="#17874a" stroke-width="1.3" stroke-linecap="round"/>
<line x1="166.30" y1="83.40" x2="158.60" y2="91.40" stroke="#17874a" stroke-width="1.3" stroke-linecap="round"/>
<rect x="169.36" y="39.62" width="3.29" height="3.36" fill="#fff"/>
<text x="169.56" y="42.74" font-size="4.0" fill="#17874a" textLength="2.89" lengthAdjust="spacingAndGlyphs" stroke="#17874a" stroke-width="0.25">N</text>
<rect x="186.56" y="50.42" width="3.29" height="3.36" fill="#fff"/>
<text x="186.76" y="53.54" font-size="4.0" fill="#17874a" textLength="2.89" lengthAdjust="spacingAndGlyphs" stroke="#17874a" stroke-width="0.25">N</text>
<rect x="153.06" y="52.52" width="3.29" height="3.36" fill="#fff"/>
<text x="153.26" y="55.64" font-size="4.0" fill="#17874a" textLength="2.89" lengthAdjust="spacingAndGlyphs" stroke="#17874a" stroke-width="0.25">N</text>
<rect x="162.06" y="69.62" width="3.29" height="3.36" fill="#fff"/>
<text x="162.26" y="72.74" font-size="4.0" fill="#17874a" textLength="2.89" lengthAdjust="spacingAndGlyphs" stroke="#17874a" stroke-width="0.25">N</text>
<rect x="186.44" y="28.62" width="3.51" height="3.36" fill="#fff"/>
<text x="186.64" y="31.74" font-size="4.0" fill="#17874a" textLength="3.11" lengthAdjust="spacingAndGlyphs" stroke="#17874a" stroke-width="0.25">O</text>
<rect x="186.44" y="71.22" width="3.51" height="3.36" fill="#fff"/>
<text x="186.64" y="74.34" font-size="4.0" fill="#17874a" textLength="3.11" lengthAdjust="spacingAndGlyphs" stroke="#17874a" stroke-width="0.25">O</text>
<line x1="146.71" y1="89.78" x2="158.41" y2="92.28" stroke="#ff1010" stroke-width="1.2349999999999999" stroke-linecap="round"/>
<line x1="147.09" y1="88.02" x2="158.79" y2="90.52" stroke="#ff1010" stroke-width="1.2349999999999999" stroke-linecap="round"/>
<line x1="140.70" y1="99.40" x2="146.90" y2="88.90" stroke="#000" stroke-width="1.3" stroke-linecap="round"/>
<line x1="158.60" y1="91.40" x2="159.30" y2="103.20" stroke="#000" stroke-width="1.3" stroke-linecap="round"/>
<line x1="158.91" y1="102.39" x2="148.01" y2="107.69" stroke="#1a1aff" stroke-width="1.2349999999999999" stroke-linecap="round"/>
<line x1="159.69" y1="104.01" x2="148.79" y2="109.31" stroke="#1a1aff" stroke-width="1.2349999999999999" stroke-linecap="round"/>
<line x1="148.40" y1="108.50" x2="140.70" y2="99.40" stroke="#1a1aff" stroke-width="1.3" stroke-linecap="round"/>
<rect x="139.13" y="97.80" width="3.14" height="3.19" fill="#fff"/>
<text x="139.33" y="100.77" font-size="3.8" fill="#1a1aff" textLength="2.74" lengthAdjust="spacingAndGlyphs" stroke="#1a1aff" stroke-width="0.25">N</text>
<rect x="146.83" y="106.90" width="3.14" height="3.19" fill="#fff"/>
<text x="147.03" y="109.87" font-size="3.8" fill="#1a1aff" textLength="2.74" lengthAdjust="spacingAndGlyphs" stroke="#1a1aff" stroke-width="0.25">N</text>
<rect x="157.73" y="101.60" width="3.14" height="3.19" fill="#fff"/>
<text x="157.93" y="104.57" font-size="3.8" fill="#1a1aff" textLength="2.74" lengthAdjust="spacingAndGlyphs" stroke="#1a1aff" stroke-width="0.25">N</text>
<line x1="129.70" y1="100.80" x2="123.00" y2="90.30" stroke="#000" stroke-width="1.3" stroke-linecap="round"/>
<path d="M112.17,92.59 L123.15,91.19 L122.85,89.41 L112.03,91.81Z" fill="#000"/>
<line x1="112.10" y1="92.20" x2="105.40" y2="82.20" stroke="#000" stroke-width="1.3" stroke-linecap="round"/>
<line x1="105.40" y1="82.20" x2="109.70" y2="73.10" stroke="#000" stroke-width="1.3" stroke-linecap="round"/>
<line x1="112.10" y1="92.20" x2="107.80" y2="103.20" stroke="#000" stroke-width="1.3" stroke-linecap="round"/>
<line x1="107.80" y1="103.20" x2="114.40" y2="112.30" stroke="#000" stroke-width="1.9500000000000002" stroke-linecap="round"/>
<line x1="114.40" y1="112.30" x2="125.40" y2="111.80" stroke="#000" stroke-width="1.9500000000000002" stroke-linecap="round"/>
<line x1="125.40" y1="111.80" x2="129.70" y2="100.80" stroke="#000" stroke-width="1.3" stroke-linecap="round"/>
<path d="M129.75,101.20 L140.85,100.59 L140.55,98.21 L129.65,100.40Z" fill="#000"/>
<path d="M107.76,102.80 L98.46,102.91 L98.74,105.49 L107.84,103.60Z" fill="#000"/>
<path d="M114.04,112.13 L108.82,121.04 L111.18,122.16 L114.76,112.47Z" fill="#000"/>
<path d="M125.07,112.03 L129.93,120.73 L132.07,119.27 L125.73,111.57Z" fill="#000"/>
<rect x="107.90" y="69.39" width="8.00" height="3.02" fill="#fff"/>
<text x="108.10" y="72.20" font-size="3.6" fill="#000" textLength="7.60" lengthAdjust="spacingAndGlyphs" stroke="#000" stroke-width="0.25">OAc</text>
<rect x="91.00" y="102.79" width="8.00" height="3.02" fill="#fff"/>
<text x="91.20" y="105.60" font-size="3.6" fill="#000" textLength="7.60" lengthAdjust="spacingAndGlyphs" stroke="#000" stroke-width="0.25">AcO</text>
<rect x="102.90" y="121.89" width="8.20" height="3.02" fill="#fff"/>
<text x="103.10" y="124.70" font-size="3.6" fill="#000" textLength="7.80" lengthAdjust="spacingAndGlyphs" stroke="#000" stroke-width="0.25">AcO</text>
<rect x="130.40" y="120.29" width="7.60" height="3.02" fill="#fff"/>
<text x="130.60" y="123.10" font-size="3.6" fill="#000" textLength="7.20" lengthAdjust="spacingAndGlyphs" stroke="#000" stroke-width="0.25">OAc</text>
<rect x="121.48" y="88.87" width="3.04" height="2.86" fill="#fff"/>
<text x="121.68" y="91.52" font-size="3.4" fill="#000" textLength="2.64" lengthAdjust="spacingAndGlyphs" stroke="#000" stroke-width="0.25">O</text>
</g>
<g transform="matrix(1.01,0,0,0.952,30.5,333.2)">
<line x1="171.00" y1="41.30" x2="166.10" y2="31.10" stroke="#17874a" stroke-width="1.3" stroke-linecap="round"/>
<line x1="171.00" y1="41.30" x2="182.60" y2="41.30" stroke="#17874a" stroke-width="1.3" stroke-linecap="round"/>
<line x1="183.49" y1="41.75" x2="188.37" y2="32.18" stroke="#17874a" stroke-width="1.2349999999999999" stroke-linecap="round"/>
<line x1="181.71" y1="40.85" x2="186.58" y2="31.27" stroke="#17874a" stroke-width="1.2349999999999999" stroke-linecap="round"/>
<line x1="182.60" y1="41.30" x2="188.20" y2="52.10" stroke="#17874a" stroke-width="1.3" stroke-linecap="round"/>
<line x1="188.20" y1="52.10" x2="200.00" y2="52.10" stroke="#17874a" stroke-width="1.3" stroke-linecap="round"/>
<line x1="188.20" y1="52.10" x2="182.60" y2="62.30" stroke="#17874a" stroke-width="1.3" stroke-linecap="round"/>
<line x1="181.72" y1="62.77" x2="186.57" y2="71.95" stroke="#17874a" stroke-width="1.2349999999999999" stroke-linecap="round"/>
<line x1="183.48" y1="61.83" x2="188.34" y2="71.02" stroke="#17874a" stroke-width="1.2349999999999999" stroke-linecap="round"/>
<line x1="182.60" y1="62.30" x2="171.30" y2="62.30" stroke="#17874a" stroke-width="1.3" stroke-linecap="round"/>
<line x1="165.80" y1="52.10" x2="171.30" y2="62.30" stroke="#17874a" stroke-width="1.3" stroke-linecap="round"/>
<line x1="168.46" y1="53.03" x2="171.98" y2="59.56" stroke="#17874a" stroke-width="1.2349999999999999" stroke-linecap="round"/>
<line x1="165.80" y1="52.10" x2="171.00" y2="41.30" stroke="#17874a" stroke-width="1.3" stroke-linecap="round"/>
<line x1="165.80" y1="52.10" x2="154.70" y2="54.20" stroke="#17874a" stroke-width="1.3" stroke-linecap="round"/>
<line x1="154.70" y1="54.20" x2="153.70" y2="66.00" stroke="#17874a" stroke-width="1.3" stroke-linecap="round"/>
<line x1="152.63" y1="56.16" x2="151.99" y2="63.72" stroke="#17874a" stroke-width="1.2349999999999999" stroke-linecap="round"/>
<line x1="153.70" y1="66.00" x2="163.70" y2="71.30" stroke="#17874a" stroke-width="1.3" stroke-linecap="round"/>
<line x1="163.70" y1="71.30" x2="171.30" y2="62.30" stroke="#17874a" stroke-width="1.3" stroke-linecap="round"/>
<line x1="163.70" y1="71.30" x2="166.30" y2="83.40" stroke="#17874a" stroke-width="1.3" stroke-linecap="round"/>
<line x1="166.30" y1="83.40" x2="158.60" y2="91.40" stroke="#17874a" stroke-width="1.3" stroke-linecap="round"/>
<rect x="169.36" y="39.62" width="3.29" height="3.36" fill="#fff"/>
<text x="169.56" y="42.74" font-size="4.0" fill="#17874a" textLength="2.89" lengthAdjust="spacingAndGlyphs" stroke="#17874a" stroke-width="0.25">N</text>
<rect x="186.56" y="50.42" width="3.29" height="3.36" fill="#fff"/>
<text x="186.76" y="53.54" font-size="4.0" fill="#17874a" textLength="2.89" lengthAdjust="spacingAndGlyphs" stroke="#17874a" stroke-width="0.25">N</text>
<rect x="153.06" y="52.52" width="3.29" height="3.36" fill="#fff"/>
<text x="153.26" y="55.64" font-size="4.0" fill="#17874a" textLength="2.89" lengthAdjust="spacingAndGlyphs" stroke="#17874a" stroke-width="0.25">N</text>
<rect x="162.06" y="69.62" width="3.29" height="3.36" fill="#fff"/>
<text x="162.26" y="72.74" font-size="4.0" fill="#17874a" textLength="2.89" lengthAdjust="spacingAndGlyphs" stroke="#17874a" stroke-width="0.25">N</text>
<rect x="186.44" y="28.62" width="3.51" height="3.36" fill="#fff"/>
<text x="186.64" y="31.74" font-size="4.0" fill="#17874a" textLength="3.11" lengthAdjust="spacingAndGlyphs" stroke="#17874a" stroke-width="0.25">O</text>
<rect x="186.44" y="71.22" width="3.51" height="3.36" fill="#fff"/>
<text x="186.64" y="74.34" font-size="4.0" fill="#17874a" textLength="3.11" lengthAdjust="spacingAndGlyphs" stroke="#17874a" stroke-width="0.25">O</text>
<line x1="146.71" y1="89.78" x2="158.41" y2="92.28" stroke="#ff1010" stroke-width="1.2349999999999999" stroke-linecap="round"/>
<line x1="147.09" y1="88.02" x2="158.79" y2="90.52" stroke="#ff1010" stroke-width="1.2349999999999999" stroke-linecap="round"/>
<line x1="140.70" y1="99.40" x2="146.90" y2="88.90" stroke="#000" stroke-width="1.3" stroke-linecap="round"/>
<line x1="158.60" y1="91.40" x2="159.30" y2="103.20" stroke="#000" stroke-width="1.3" stroke-linecap="round"/>
<line x1="158.91" y1="102.39" x2="148.01" y2="107.69" stroke="#1a1aff" stroke-width="1.2349999999999999" stroke-linecap="round"/>
<line x1="159.69" y1="104.01" x2="148.79" y2="109.31" stroke="#1a1aff" stroke-width="1.2349999999999999" stroke-linecap="round"/>
<line x1="148.40" y1="108.50" x2="140.70" y2="99.40" stroke="#1a1aff" stroke-width="1.3" stroke-linecap="round"/>
<rect x="139.13" y="97.80" width="3.14" height="3.19" fill="#fff"/>
<text x="139.33" y="100.77" font-size="3.8" fill="#1a1aff" textLength="2.74" lengthAdjust="spacingAndGlyphs" stroke="#1a1aff" stroke-width="0.25">N</text>
<rect x="146.83" y="106.90" width="3.14" height="3.19" fill="#fff"/>
<text x="147.03" y="109.87" font-size="3.8" fill="#1a1aff" textLength="2.74" lengthAdjust="spacingAndGlyphs" stroke="#1a1aff" stroke-width="0.25">N</text>
<rect x="157.73" y="101.60" width="3.14" height="3.19" fill="#fff"/>
<text x="157.93" y="104.57" font-size="3.8" fill="#1a1aff" textLength="2.74" lengthAdjust="spacingAndGlyphs" stroke="#1a1aff" stroke-width="0.25">N</text>
<line x1="129.70" y1="100.80" x2="123.00" y2="90.30" stroke="#000" stroke-width="1.3" stroke-linecap="round"/>
<path d="M112.17,92.59 L123.15,91.19 L122.85,89.41 L112.03,91.81Z" fill="#000"/>
<line x1="112.10" y1="92.20" x2="105.40" y2="82.20" stroke="#000" stroke-width="1.3" stroke-linecap="round"/>
<line x1="105.40" y1="82.20" x2="109.70" y2="73.10" stroke="#000" stroke-width="1.3" stroke-linecap="round"/>
<line x1="112.10" y1="92.20" x2="107.80" y2="103.20" stroke="#000" stroke-width="1.3" stroke-linecap="round"/>
<line x1="107.80" y1="103.20" x2="114.40" y2="112.30" stroke="#000" stroke-width="1.9500000000000002" stroke-linecap="round"/>
<line x1="114.40" y1="112.30" x2="125.40" y2="111.80" stroke="#000" stroke-width="1.9500000000000002" stroke-linecap="round"/>
<line x1="125.40" y1="111.80" x2="129.70" y2="100.80" stroke="#000" stroke-width="1.3" stroke-linecap="round"/>
<path d="M129.75,101.20 L140.85,100.59 L140.55,98.21 L129.65,100.40Z" fill="#000"/>
<path d="M107.76,102.80 L98.46,102.91 L98.74,105.49 L107.84,103.60Z" fill="#000"/>
<path d="M114.04,112.13 L108.82,121.04 L111.18,122.16 L114.76,112.47Z" fill="#000"/>
<path d="M125.07,112.03 L129.93,120.73 L132.07,119.27 L125.73,111.57Z" fill="#000"/>
<rect x="107.90" y="69.39" width="8.00" height="3.02" fill="#fff"/>
<text x="108.10" y="72.20" font-size="3.6" fill="#000" textLength="7.60" lengthAdjust="spacingAndGlyphs" stroke="#000" stroke-width="0.25">OAc</text>
<rect x="91.00" y="102.79" width="8.00" height="3.02" fill="#fff"/>
<text x="91.20" y="105.60" font-size="3.6" fill="#000" textLength="7.60" lengthAdjust="spacingAndGlyphs" stroke="#000" stroke-width="0.25">AcO</text>
<rect x="102.90" y="121.89" width="8.20" height="3.02" fill="#fff"/>
<text x="103.10" y="124.70" font-size="3.6" fill="#000" textLength="7.80" lengthAdjust="spacingAndGlyphs" stroke="#000" stroke-width="0.25">AcO</text>
<rect x="130.40" y="120.29" width="7.60" height="3.02" fill="#fff"/>
<text x="130.60" y="123.10" font-size="3.6" fill="#000" textLength="7.20" lengthAdjust="spacingAndGlyphs" stroke="#000" stroke-width="0.25">OAc</text>
<rect x="121.48" y="88.87" width="3.04" height="2.86" fill="#fff"/>
<text x="121.68" y="91.52" font-size="3.4" fill="#000" textLength="2.64" lengthAdjust="spacingAndGlyphs" stroke="#000" stroke-width="0.25">O</text>
</g>
<g>
<line x1="559.30" y1="419.20" x2="565.70" y2="406.20" stroke="#17874a" stroke-width="1.3" stroke-linecap="round"/>
<line x1="565.70" y1="406.20" x2="578.70" y2="404.50" stroke="#17874a" stroke-width="1.3" stroke-linecap="round"/>
<line x1="578.70" y1="404.50" x2="585.40" y2="392.10" stroke="#17874a" stroke-width="1.3" stroke-linecap="round"/>
<line x1="586.21" y1="391.52" x2="578.74" y2="381.02" stroke="#17874a" stroke-width="1.2349999999999999" stroke-linecap="round"/>
<line x1="584.59" y1="392.68" x2="577.11" y2="382.18" stroke="#17874a" stroke-width="1.2349999999999999" stroke-linecap="round"/>
<line x1="585.40" y1="392.10" x2="599.00" y2="391.00" stroke="#17874a" stroke-width="1.3" stroke-linecap="round"/>
<line x1="599.00" y1="391.00" x2="606.90" y2="402.30" stroke="#17874a" stroke-width="1.3" stroke-linecap="round"/>
<line x1="598.86" y1="394.12" x2="603.92" y2="401.35" stroke="#17874a" stroke-width="1.2349999999999999" stroke-linecap="round"/>
<line x1="599.00" y1="391.00" x2="606.90" y2="380.30" stroke="#17874a" stroke-width="1.3" stroke-linecap="round"/>
<line x1="606.90" y1="380.30" x2="603.50" y2="366.20" stroke="#17874a" stroke-width="1.3" stroke-linecap="round"/>
<line x1="606.90" y1="380.30" x2="620.40" y2="384.20" stroke="#17874a" stroke-width="1.3" stroke-linecap="round"/>
<line x1="620.40" y1="384.20" x2="620.40" y2="398.30" stroke="#17874a" stroke-width="1.3" stroke-linecap="round"/>
<line x1="622.30" y1="386.74" x2="622.30" y2="395.76" stroke="#17874a" stroke-width="1.2349999999999999" stroke-linecap="round"/>
<line x1="620.40" y1="398.30" x2="606.90" y2="402.30" stroke="#17874a" stroke-width="1.3" stroke-linecap="round"/>
<line x1="606.90" y1="402.30" x2="601.20" y2="415.30" stroke="#17874a" stroke-width="1.3" stroke-linecap="round"/>
<line x1="601.20" y1="415.30" x2="609.70" y2="426.50" stroke="#17874a" stroke-width="1.3" stroke-linecap="round"/>
<line x1="601.20" y1="415.30" x2="587.70" y2="416.40" stroke="#17874a" stroke-width="1.3" stroke-linecap="round"/>
<line x1="586.81" y1="415.95" x2="581.32" y2="426.92" stroke="#17874a" stroke-width="1.2349999999999999" stroke-linecap="round"/>
<line x1="588.59" y1="416.85" x2="583.11" y2="427.82" stroke="#17874a" stroke-width="1.2349999999999999" stroke-linecap="round"/>
<line x1="587.70" y1="416.40" x2="578.70" y2="404.50" stroke="#17874a" stroke-width="1.3" stroke-linecap="round"/>
<rect x="576.91" y="402.65" width="3.58" height="3.70" fill="#fff"/>
<text x="577.11" y="406.08" font-size="4.4" fill="#17874a" textLength="3.18" lengthAdjust="spacingAndGlyphs" stroke="#17874a" stroke-width="0.25">N</text>
<rect x="605.11" y="378.45" width="3.58" height="3.70" fill="#fff"/>
<text x="605.31" y="381.88" font-size="4.4" fill="#17874a" textLength="3.18" lengthAdjust="spacingAndGlyphs" stroke="#17874a" stroke-width="0.25">N</text>
<rect x="618.61" y="396.45" width="3.58" height="3.70" fill="#fff"/>
<text x="618.81" y="399.88" font-size="4.4" fill="#17874a" textLength="3.18" lengthAdjust="spacingAndGlyphs" stroke="#17874a" stroke-width="0.25">N</text>
<rect x="599.41" y="413.45" width="3.58" height="3.70" fill="#fff"/>
<text x="599.61" y="416.88" font-size="4.4" fill="#17874a" textLength="3.18" lengthAdjust="spacingAndGlyphs" stroke="#17874a" stroke-width="0.25">N</text>
<rect x="575.09" y="378.45" width="3.82" height="3.70" fill="#fff"/>
<text x="575.29" y="381.88" font-size="4.4" fill="#17874a" textLength="3.42" lengthAdjust="spacingAndGlyphs" stroke="#17874a" stroke-width="0.25">O</text>
<rect x="579.59" y="426.95" width="3.82" height="3.70" fill="#fff"/>
<text x="579.79" y="430.38" font-size="4.4" fill="#17874a" textLength="3.42" lengthAdjust="spacingAndGlyphs" stroke="#17874a" stroke-width="0.25">O</text>
<line x1="546.02" y1="423.27" x2="559.52" y2="420.17" stroke="#ff1010" stroke-width="1.2349999999999999" stroke-linecap="round"/>
<line x1="545.58" y1="421.33" x2="559.08" y2="418.23" stroke="#ff1010" stroke-width="1.2349999999999999" stroke-linecap="round"/>
<line x1="542.70" y1="436.40" x2="545.80" y2="422.30" stroke="#1a1aff" stroke-width="1.3" stroke-linecap="round"/>
<line x1="559.30" y1="419.20" x2="566.00" y2="431.50" stroke="#1a1aff" stroke-width="1.3" stroke-linecap="round"/>
<line x1="565.27" y1="430.82" x2="556.07" y2="440.62" stroke="#1a1aff" stroke-width="1.2349999999999999" stroke-linecap="round"/>
<line x1="566.73" y1="432.18" x2="557.53" y2="441.98" stroke="#1a1aff" stroke-width="1.2349999999999999" stroke-linecap="round"/>
<line x1="556.80" y1="441.30" x2="542.70" y2="436.40" stroke="#1a1aff" stroke-width="1.3" stroke-linecap="round"/>
<rect x="540.91" y="434.55" width="3.58" height="3.70" fill="#fff"/>
<text x="541.11" y="437.98" font-size="4.4" fill="#1a1aff" textLength="3.18" lengthAdjust="spacingAndGlyphs" stroke="#1a1aff" stroke-width="0.25">N</text>
<rect x="555.01" y="439.45" width="3.58" height="3.70" fill="#fff"/>
<text x="555.21" y="442.88" font-size="4.4" fill="#1a1aff" textLength="3.18" lengthAdjust="spacingAndGlyphs" stroke="#1a1aff" stroke-width="0.25">N</text>
<rect x="564.21" y="429.65" width="3.58" height="3.70" fill="#fff"/>
<text x="564.41" y="433.08" font-size="4.4" fill="#1a1aff" textLength="3.18" lengthAdjust="spacingAndGlyphs" stroke="#1a1aff" stroke-width="0.25">N</text>
<path d="M495.91,436.15 L507.47,443.64 L508.73,441.36 L496.29,435.45Z" fill="#000"/>
<line x1="508.10" y1="442.50" x2="520.00" y2="435.20" stroke="#000" stroke-width="1.3" stroke-linecap="round"/>
<line x1="520.00" y1="435.20" x2="532.30" y2="442.50" stroke="#000" stroke-width="1.3" stroke-linecap="round"/>
<path d="M532.50,442.85 L543.36,437.52 L542.04,435.28 L532.10,442.15Z" fill="#000"/>
<line x1="532.30" y1="442.50" x2="532.30" y2="457.30" stroke="#000" stroke-width="1.3" stroke-linecap="round"/>
<line x1="532.30" y1="457.30" x2="520.00" y2="464.00" stroke="#000" stroke-width="1.9500000000000002" stroke-linecap="round"/>
<line x1="520.00" y1="464.00" x2="508.10" y2="457.30" stroke="#000" stroke-width="1.9500000000000002" stroke-linecap="round"/>
<line x1="508.10" y1="457.30" x2="508.10" y2="442.50" stroke="#000" stroke-width="1.9500000000000002" stroke-linecap="round"/>
<line x1="496.10" y1="435.80" x2="495.80" y2="424.10" stroke="#000" stroke-width="1.3" stroke-linecap="round"/>
<path d="M507.93,456.94 L497.29,460.94 L498.51,463.46 L508.27,457.66Z" fill="#000"/>
<path d="M519.60,464.00 L518.80,475.10 L521.20,475.10 L520.40,464.00Z" fill="#000"/>
<path d="M532.09,457.64 L540.78,464.00 L542.22,461.60 L532.51,456.96Z" fill="#000"/>
<rect x="494.00" y="419.64" width="9.60" height="3.53" fill="#fff"/>
<text x="494.20" y="422.91" font-size="4.2" fill="#000" textLength="9.20" lengthAdjust="spacingAndGlyphs" stroke="#000" stroke-width="0.25">OAc</text>
<rect x="487.40" y="461.34" width="10.00" height="3.53" fill="#fff"/>
<text x="487.60" y="464.61" font-size="4.2" fill="#000" textLength="9.60" lengthAdjust="spacingAndGlyphs" stroke="#000" stroke-width="0.25">AcO</text>
<rect x="517.95" y="475.54" width="8.90" height="3.53" fill="#fff"/>
<text x="518.15" y="478.81" font-size="4.2" fill="#000" textLength="8.50" lengthAdjust="spacingAndGlyphs" stroke="#000" stroke-width="0.25">OAc</text>
<rect x="542.50" y="462.04" width="9.00" height="3.53" fill="#fff"/>
<text x="542.70" y="465.31" font-size="4.2" fill="#000" textLength="8.60" lengthAdjust="spacingAndGlyphs" stroke="#000" stroke-width="0.25">OAc</text>
<rect x="518.24" y="433.52" width="3.51" height="3.36" fill="#fff"/>
<text x="518.44" y="436.64" font-size="4.0" fill="#000" textLength="3.11" lengthAdjust="spacingAndGlyphs" stroke="#000" stroke-width="0.25">O</text>
</g>
<g class="ns" transform="matrix(0.8292,0,0,0.8032,102.07,-268.35)">
<line x1="559.30" y1="419.20" x2="565.70" y2="406.20" stroke="#17874a" stroke-width="1.3" stroke-linecap="round"/>
<line x1="565.70" y1="406.20" x2="578.70" y2="404.50" stroke="#17874a" stroke-width="1.3" stroke-linecap="round"/>
<line x1="578.70" y1="404.50" x2="585.40" y2="392.10" stroke="#17874a" stroke-width="1.3" stroke-linecap="round"/>
<line x1="586.21" y1="391.52" x2="578.74" y2="381.02" stroke="#17874a" stroke-width="1.2349999999999999" stroke-linecap="round"/>
<line x1="584.59" y1="392.68" x2="577.11" y2="382.18" stroke="#17874a" stroke-width="1.2349999999999999" stroke-linecap="round"/>
<line x1="585.40" y1="392.10" x2="599.00" y2="391.00" stroke="#17874a" stroke-width="1.3" stroke-linecap="round"/>
<line x1="599.00" y1="391.00" x2="606.90" y2="402.30" stroke="#17874a" stroke-width="1.3" stroke-linecap="round"/>
<line x1="598.86" y1="394.12" x2="603.92" y2="401.35" stroke="#17874a" stroke-width="1.2349999999999999" stroke-linecap="round"/>
<line x1="599.00" y1="391.00" x2="606.90" y2="380.30" stroke="#17874a" stroke-width="1.3" stroke-linecap="round"/>
<line x1="606.90" y1="380.30" x2="603.50" y2="366.20" stroke="#17874a" stroke-width="1.3" stroke-linecap="round"/>
<line x1="606.90" y1="380.30" x2="620.40" y2="384.20" stroke="#17874a" stroke-width="1.3" stroke-linecap="round"/>
<line x1="620.40" y1="384.20" x2="620.40" y2="398.30" stroke="#17874a" stroke-width="1.3" stroke-linecap="round"/>
<line x1="622.30" y1="386.74" x2="622.30" y2="395.76" stroke="#17874a" stroke-width="1.2349999999999999" stroke-linecap="round"/>
<line x1="620.40" y1="398.30" x2="606.90" y2="402.30" stroke="#17874a" stroke-width="1.3" stroke-linecap="round"/>
<line x1="606.90" y1="402.30" x2="601.20" y2="415.30" stroke="#17874a" stroke-width="1.3" stroke-linecap="round"/>
<line x1="601.20" y1="415.30" x2="609.70" y2="426.50" stroke="#17874a" stroke-width="1.3" stroke-linecap="round"/>
<line x1="601.20" y1="415.30" x2="587.70" y2="416.40" stroke="#17874a" stroke-width="1.3" stroke-linecap="round"/>
<line x1="586.81" y1="415.95" x2="581.32" y2="426.92" stroke="#17874a" stroke-width="1.2349999999999999" stroke-linecap="round"/>
<line x1="588.59" y1="416.85" x2="583.11" y2="427.82" stroke="#17874a" stroke-width="1.2349999999999999" stroke-linecap="round"/>
<line x1="587.70" y1="416.40" x2="578.70" y2="404.50" stroke="#17874a" stroke-width="1.3" stroke-linecap="round"/>
<rect x="576.91" y="402.65" width="3.58" height="3.70" fill="#fff"/>
<text x="577.11" y="406.08" font-size="4.4" fill="#17874a" textLength="3.18" lengthAdjust="spacingAndGlyphs" stroke="#17874a" stroke-width="0.25">N</text>
<rect x="605.11" y="378.45" width="3.58" height="3.70" fill="#fff"/>
<text x="605.31" y="381.88" font-size="4.4" fill="#17874a" textLength="3.18" lengthAdjust="spacingAndGlyphs" stroke="#17874a" stroke-width="0.25">N</text>
<rect x="618.61" y="396.45" width="3.58" height="3.70" fill="#fff"/>
<text x="618.81" y="399.88" font-size="4.4" fill="#17874a" textLength="3.18" lengthAdjust="spacingAndGlyphs" stroke="#17874a" stroke-width="0.25">N</text>
<rect x="599.41" y="413.45" width="3.58" height="3.70" fill="#fff"/>
<text x="599.61" y="416.88" font-size="4.4" fill="#17874a" textLength="3.18" lengthAdjust="spacingAndGlyphs" stroke="#17874a" stroke-width="0.25">N</text>
<rect x="575.09" y="378.45" width="3.82" height="3.70" fill="#fff"/>
<text x="575.29" y="381.88" font-size="4.4" fill="#17874a" textLength="3.42" lengthAdjust="spacingAndGlyphs" stroke="#17874a" stroke-width="0.25">O</text>
<rect x="579.59" y="426.95" width="3.82" height="3.70" fill="#fff"/>
<text x="579.79" y="430.38" font-size="4.4" fill="#17874a" textLength="3.42" lengthAdjust="spacingAndGlyphs" stroke="#17874a" stroke-width="0.25">O</text>
<line x1="546.02" y1="423.27" x2="559.52" y2="420.17" stroke="#ff1010" stroke-width="1.2349999999999999" stroke-linecap="round"/>
<line x1="545.58" y1="421.33" x2="559.08" y2="418.23" stroke="#ff1010" stroke-width="1.2349999999999999" stroke-linecap="round"/>
<line x1="542.70" y1="436.40" x2="545.80" y2="422.30" stroke="#1a1aff" stroke-width="1.3" stroke-linecap="round"/>
<line x1="559.30" y1="419.20" x2="566.00" y2="431.50" stroke="#1a1aff" stroke-width="1.3" stroke-linecap="round"/>
<line x1="565.27" y1="430.82" x2="556.07" y2="440.62" stroke="#1a1aff" stroke-width="1.2349999999999999" stroke-linecap="round"/>
<line x1="566.73" y1="432.18" x2="557.53" y2="441.98" stroke="#1a1aff" stroke-width="1.2349999999999999" stroke-linecap="round"/>
<line x1="556.80" y1="441.30" x2="542.70" y2="436.40" stroke="#1a1aff" stroke-width="1.3" stroke-linecap="round"/>
<rect x="540.91" y="434.55" width="3.58" height="3.70" fill="#fff"/>
<text x="541.11" y="437.98" font-size="4.4" fill="#1a1aff" textLength="3.18" lengthAdjust="spacingAndGlyphs" stroke="#1a1aff" stroke-width="0.25">N</text>
<rect x="555.01" y="439.45" width="3.58" height="3.70" fill="#fff"/>
<text x="555.21" y="442.88" font-size="4.4" fill="#1a1aff" textLength="3.18" lengthAdjust="spacingAndGlyphs" stroke="#1a1aff" stroke-width="0.25">N</text>
<rect x="564.21" y="429.65" width="3.58" height="3.70" fill="#fff"/>
<text x="564.41" y="433.08" font-size="4.4" fill="#1a1aff" textLength="3.18" lengthAdjust="spacingAndGlyphs" stroke="#1a1aff" stroke-width="0.25">N</text>
<path d="M495.91,436.15 L507.47,443.64 L508.73,441.36 L496.29,435.45Z" fill="#000"/>
<line x1="508.10" y1="442.50" x2="520.00" y2="435.20" stroke="#000" stroke-width="1.3" stroke-linecap="round"/>
<line x1="520.00" y1="435.20" x2="532.30" y2="442.50" stroke="#000" stroke-width="1.3" stroke-linecap="round"/>
<path d="M532.50,442.85 L543.36,437.52 L542.04,435.28 L532.10,442.15Z" fill="#000"/>
<line x1="532.30" y1="442.50" x2="532.30" y2="457.30" stroke="#000" stroke-width="1.3" stroke-linecap="round"/>
<line x1="532.30" y1="457.30" x2="520.00" y2="464.00" stroke="#000" stroke-width="1.9500000000000002" stroke-linecap="round"/>
<line x1="520.00" y1="464.00" x2="508.10" y2="457.30" stroke="#000" stroke-width="1.9500000000000002" stroke-linecap="round"/>
<line x1="508.10" y1="457.30" x2="508.10" y2="442.50" stroke="#000" stroke-width="1.9500000000000002" stroke-linecap="round"/>
<line x1="496.10" y1="435.80" x2="495.80" y2="424.10" stroke="#000" stroke-width="1.3" stroke-linecap="round"/>
<path d="M507.93,456.94 L497.29,460.94 L498.51,463.46 L508.27,457.66Z" fill="#000"/>
<path d="M519.60,464.00 L518.80,475.10 L521.20,475.10 L520.40,464.00Z" fill="#000"/>
<path d="M532.09,457.64 L540.78,464.00 L542.22,461.60 L532.51,456.96Z" fill="#000"/>
<rect x="494.00" y="419.64" width="9.60" height="3.53" fill="#fff"/>
<text x="494.20" y="422.91" font-size="4.2" fill="#000" textLength="9.20" lengthAdjust="spacingAndGlyphs" stroke="#000" stroke-width="0.25">OAc</text>
<rect x="487.40" y="461.34" width="10.00" height="3.53" fill="#fff"/>
<text x="487.60" y="464.61" font-size="4.2" fill="#000" textLength="9.60" lengthAdjust="spacingAndGlyphs" stroke="#000" stroke-width="0.25">AcO</text>
<rect x="517.95" y="475.54" width="8.90" height="3.53" fill="#fff"/>
<text x="518.15" y="478.81" font-size="4.2" fill="#000" textLength="8.50" lengthAdjust="spacingAndGlyphs" stroke="#000" stroke-width="0.25">OAc</text>
<rect x="542.50" y="462.04" width="9.00" height="3.53" fill="#fff"/>
<text x="542.70" y="465.31" font-size="4.2" fill="#000" textLength="8.60" lengthAdjust="spacingAndGlyphs" stroke="#000" stroke-width="0.25">OAc</text>
<rect x="518.24" y="433.52" width="3.51" height="3.36" fill="#fff"/>
<text x="518.44" y="436.64" font-size="4.0" fill="#000" textLength="3.11" lengthAdjust="spacingAndGlyphs" stroke="#000" stroke-width="0.25">O</text>
</g>
<g shape-rendering="crispEdges">
<rect x="44.50" y="277.50" width="4.00" height="4.00" fill="none" stroke="#000" stroke-width="1"/>
<rect x="48.50" y="277.50" width="4.00" height="4.00" fill="none" stroke="#000" stroke-width="1"/>
<rect x="46.50" y="274.50" width="4.00" height="4.00" fill="none" stroke="#000" stroke-width="1"/>
<rect x="49.50" y="274.50" width="4.00" height="4.00" fill="none" stroke="#000" stroke-width="1"/>
<rect x="47.50" y="272.50" width="4.00" height="4.00" fill="none" stroke="#000" stroke-width="1"/>
<rect x="51.50" y="272.50" width="4.00" height="4.00" fill="none" stroke="#000" stroke-width="1"/>
<rect x="48.50" y="269.50" width="4.00" height="4.00" fill="none" stroke="#000" stroke-width="1"/>
<rect x="52.50" y="269.50" width="4.00" height="4.00" fill="none" stroke="#000" stroke-width="1"/>
<rect x="50.50" y="266.50" width="4.00" height="4.00" fill="none" stroke="#000" stroke-width="1"/>
<rect x="53.50" y="266.50" width="4.00" height="4.00" fill="none" stroke="#000" stroke-width="1"/>
<rect x="51.50" y="263.50" width="4.00" height="4.00" fill="none" stroke="#000" stroke-width="1"/>
<rect x="54.50" y="263.50" width="4.00" height="4.00" fill="none" stroke="#000" stroke-width="1"/>
<rect x="52.50" y="261.50" width="4.00" height="4.00" fill="none" stroke="#000" stroke-width="1"/>
<rect x="56.50" y="261.50" width="4.00" height="4.00" fill="none" stroke="#000" stroke-width="1"/>
<rect x="54.50" y="258.50" width="4.00" height="4.00" fill="none" stroke="#000" stroke-width="1"/>
<rect x="57.50" y="258.50" width="4.00" height="4.00" fill="none" stroke="#000" stroke-width="1"/>
<rect x="55.50" y="255.50" width="4.00" height="4.00" fill="none" stroke="#000" stroke-width="1"/>
<rect x="59.50" y="256.50" width="4.00" height="4.00" fill="none" stroke="#000" stroke-width="1"/>
<rect x="57.50" y="253.50" width="4.00" height="4.00" fill="none" stroke="#000" stroke-width="1"/>
<rect x="60.50" y="253.50" width="4.00" height="4.00" fill="none" stroke="#000" stroke-width="1"/>
<rect x="58.50" y="250.50" width="4.00" height="4.00" fill="none" stroke="#000" stroke-width="1"/>
<rect x="62.50" y="251.50" width="4.00" height="4.00" fill="none" stroke="#000" stroke-width="1"/>
<rect x="60.50" y="248.50" width="4.00" height="4.00" fill="none" stroke="#000" stroke-width="1"/>
<rect x="64.50" y="248.50" width="4.00" height="4.00" fill="none" stroke="#000" stroke-width="1"/>
<rect x="62.50" y="245.50" width="4.00" height="4.00" fill="none" stroke="#000" stroke-width="1"/>
<rect x="65.50" y="246.50" width="4.00" height="4.00" fill="none" stroke="#000" stroke-width="1"/>
<rect x="64.50" y="243.50" width="4.00" height="4.00" fill="none" stroke="#000" stroke-width="1"/>
<rect x="67.50" y="244.50" width="4.00" height="4.00" fill="none" stroke="#000" stroke-width="1"/>
<rect x="66.50" y="240.50" width="4.00" height="4.00" fill="none" stroke="#000" stroke-width="1"/>
<rect x="69.50" y="241.50" width="4.00" height="4.00" fill="none" stroke="#000" stroke-width="1"/>
<rect x="67.50" y="238.50" width="4.00" height="4.00" fill="none" stroke="#000" stroke-width="1"/>
<rect x="71.50" y="239.50" width="4.00" height="4.00" fill="none" stroke="#000" stroke-width="1"/>
<rect x="69.50" y="236.50" width="4.00" height="4.00" fill="none" stroke="#000" stroke-width="1"/>
<rect x="73.50" y="237.50" width="4.00" height="4.00" fill="none" stroke="#000" stroke-width="1"/>
<rect x="71.50" y="233.50" width="4.00" height="4.00" fill="none" stroke="#000" stroke-width="1"/>
<rect x="75.50" y="235.50" width="4.00" height="4.00" fill="none" stroke="#000" stroke-width="1"/>
</g>
<rect x="60.50" y="253.50" width="5.00" height="5.00" fill="none" stroke="#000" stroke-width="1"/>
<rect x="64.50" y="249.50" width="5.00" height="5.00" fill="none" stroke="#000" stroke-width="1"/>
<rect x="70.50" y="243.50" width="5.00" height="5.00" fill="none" stroke="#000" stroke-width="1"/>
<rect x="77.50" y="241.50" width="5.00" height="5.00" fill="none" stroke="#000" stroke-width="1"/>
<rect x="85.50" y="240.50" width="5.00" height="5.00" fill="none" stroke="#000" stroke-width="1"/>
<rect x="92.50" y="239.50" width="5.00" height="5.00" fill="none" stroke="#000" stroke-width="1"/>
<rect x="100.50" y="239.50" width="5.00" height="5.00" fill="none" stroke="#000" stroke-width="1"/>
<rect x="108.50" y="241.50" width="5.00" height="5.00" fill="none" stroke="#000" stroke-width="1"/>
<rect x="114.50" y="243.50" width="5.00" height="5.00" fill="none" stroke="#000" stroke-width="1"/>
<rect x="119.50" y="246.50" width="5.00" height="5.00" fill="none" stroke="#000" stroke-width="1"/>
<rect x="123.50" y="249.50" width="5.00" height="5.00" fill="none" stroke="#000" stroke-width="1"/>
<rect x="128.50" y="253.50" width="5.00" height="5.00" fill="none" stroke="#000" stroke-width="1"/>
<rect x="131.50" y="255.50" width="5.00" height="5.00" fill="none" stroke="#000" stroke-width="1"/>
<rect x="134.50" y="257.50" width="5.00" height="5.00" fill="none" stroke="#000" stroke-width="1"/>
<rect x="136.50" y="260.50" width="5.00" height="5.00" fill="none" stroke="#000" stroke-width="1"/>
<rect x="138.50" y="262.50" width="5.00" height="5.00" fill="none" stroke="#000" stroke-width="1"/>
<rect x="140.50" y="264.50" width="5.00" height="5.00" fill="none" stroke="#000" stroke-width="1"/>
<rect x="142.50" y="265.50" width="5.00" height="5.00" fill="none" stroke="#000" stroke-width="1"/>
<rect x="143.50" y="266.50" width="5.00" height="5.00" fill="none" stroke="#000" stroke-width="1"/>
<rect x="143.50" y="267.50" width="5.00" height="5.00" fill="none" stroke="#000" stroke-width="1"/>
<rect x="144.50" y="268.50" width="5.00" height="5.00" fill="none" stroke="#000" stroke-width="1"/>
<rect x="145.50" y="268.50" width="5.00" height="5.00" fill="none" stroke="#000" stroke-width="1"/>
<rect x="145.50" y="268.50" width="5.00" height="5.00" fill="none" stroke="#000" stroke-width="1"/>
<path d="M47.40,280.50 C48.05,279.25 50.15,275.40 51.30,273.00 C52.45,270.60 53.17,268.38 54.30,266.10 C55.43,263.82 56.90,261.10 58.10,259.30 C59.30,257.50 60.38,256.47 61.50,255.30 C62.62,254.13 63.38,253.48 64.80,252.30 C66.22,251.12 68.13,249.42 70.00,248.20 C71.87,246.98 73.73,245.93 76.00,245.00 C78.27,244.07 81.27,243.22 83.60,242.60 C85.93,241.98 87.27,241.60 90.00,241.30 C92.73,241.00 97.20,240.72 100.00,240.80 C102.80,240.88 104.53,241.35 106.80,241.80 C109.07,242.25 111.32,242.70 113.60,243.50 C115.88,244.30 118.22,245.28 120.50,246.60 C122.78,247.92 125.03,249.63 127.30,251.40 C129.57,253.17 132.05,255.22 134.10,257.20 C136.15,259.18 138.23,261.37 139.60,263.30 C140.97,265.23 141.52,266.87 142.30,268.80 C143.08,270.73 143.97,273.88 144.30,274.90" fill="none" stroke="#008000" stroke-width="1.0" shape-rendering="crispEdges"/>
<path d="M69.60,240.33 L72.30,245.73 L66.90,245.73Z" fill="none" stroke="#000" stroke-width="1.05"/>
<path d="M75.80,234.13 L78.50,239.53 L73.10,239.53Z" fill="none" stroke="#000" stroke-width="1.05"/>
<path d="M83.40,228.53 L86.10,233.93 L80.70,233.93Z" fill="none" stroke="#000" stroke-width="1.05"/>
<path d="M93.20,224.53 L95.90,229.93 L90.50,229.93Z" fill="none" stroke="#000" stroke-width="1.05"/>
<path d="M103.40,221.13 L106.10,226.53 L100.70,226.53Z" fill="none" stroke="#000" stroke-width="1.05"/>
<path d="M113.90,219.13 L116.60,224.53 L111.20,224.53Z" fill="none" stroke="#000" stroke-width="1.05"/>
<path d="M124.30,219.53 L127.00,224.93 L121.60,224.93Z" fill="none" stroke="#000" stroke-width="1.05"/>
<path d="M134.80,220.83 L137.50,226.23 L132.10,226.23Z" fill="none" stroke="#000" stroke-width="1.05"/>
<path d="M144.80,223.63 L147.50,229.03 L142.10,229.03Z" fill="none" stroke="#000" stroke-width="1.05"/>
<path d="M153.50,227.23 L156.20,232.63 L150.80,232.63Z" fill="none" stroke="#000" stroke-width="1.05"/>
<path d="M161.70,231.33 L164.40,236.73 L159.00,236.73Z" fill="none" stroke="#000" stroke-width="1.05"/>
<path d="M167.60,235.33 L170.30,240.73 L164.90,240.73Z" fill="none" stroke="#000" stroke-width="1.05"/>
<path d="M172.40,239.13 L175.10,244.53 L169.70,244.53Z" fill="none" stroke="#000" stroke-width="1.05"/>
<path d="M177.20,242.03 L179.90,247.43 L174.50,247.43Z" fill="none" stroke="#000" stroke-width="1.05"/>
<path d="M181.00,244.93 L183.70,250.33 L178.30,250.33Z" fill="none" stroke="#000" stroke-width="1.05"/>
<path d="M184.80,247.73 L187.50,253.13 L182.10,253.13Z" fill="none" stroke="#000" stroke-width="1.05"/>
<path d="M188.60,249.63 L191.30,255.03 L185.90,255.03Z" fill="none" stroke="#000" stroke-width="1.05"/>
<path d="M192.50,250.63 L195.20,256.03 L189.80,256.03Z" fill="none" stroke="#000" stroke-width="1.05"/>
<path d="M197.20,252.53 L199.90,257.93 L194.50,257.93Z" fill="none" stroke="#000" stroke-width="1.05"/>
<path d="M200.10,256.33 L202.80,261.73 L197.40,261.73Z" fill="none" stroke="#000" stroke-width="1.05"/>
<path d="M203.00,261.13 L205.70,266.53 L200.30,266.53Z" fill="none" stroke="#000" stroke-width="1.05"/>
<path d="M205.80,265.93 L208.50,271.33 L203.10,271.33Z" fill="none" stroke="#000" stroke-width="1.05"/>
<path d="M170.00,237.83 L172.70,243.23 L167.30,243.23Z" fill="none" stroke="#000" stroke-width="1.05"/>
<path d="M174.80,241.18 L177.50,246.58 L172.10,246.58Z" fill="none" stroke="#000" stroke-width="1.05"/>
<path d="M179.10,244.08 L181.80,249.48 L176.40,249.48Z" fill="none" stroke="#000" stroke-width="1.05"/>
<path d="M182.90,246.93 L185.60,252.33 L180.20,252.33Z" fill="none" stroke="#000" stroke-width="1.05"/>
<path d="M186.70,249.28 L189.40,254.68 L184.00,254.68Z" fill="none" stroke="#000" stroke-width="1.05"/>
<path d="M190.55,250.73 L193.25,256.13 L187.85,256.13Z" fill="none" stroke="#000" stroke-width="1.05"/>
<path d="M194.85,252.18 L197.55,257.58 L192.15,257.58Z" fill="none" stroke="#000" stroke-width="1.05"/>
<path d="M198.65,255.03 L201.35,260.43 L195.95,260.43Z" fill="none" stroke="#000" stroke-width="1.05"/>
<path d="M47.40,280.50 C48.05,279.25 50.15,275.40 51.30,273.00 C52.45,270.60 53.17,268.38 54.30,266.10 C55.43,263.82 56.82,261.58 58.10,259.30 C59.38,257.02 60.63,254.55 62.00,252.40 C63.37,250.25 64.73,248.40 66.30,246.40 C67.87,244.40 69.72,242.37 71.40,240.40 C73.08,238.43 74.97,235.92 76.40,234.60 C77.83,233.28 78.33,233.37 80.00,232.50 C81.67,231.63 83.52,230.53 86.40,229.40 C89.28,228.27 94.37,226.60 97.30,225.70 C100.23,224.80 101.88,224.43 104.00,224.00 C106.12,223.57 107.63,223.40 110.00,223.10 C112.37,222.80 115.47,222.35 118.20,222.20 C120.93,222.05 123.68,221.98 126.40,222.20 C129.12,222.42 131.78,222.88 134.50,223.50 C137.22,224.12 139.97,224.95 142.70,225.90 C145.43,226.85 148.17,227.97 150.90,229.20 C153.63,230.43 156.37,231.73 159.10,233.30 C161.83,234.87 164.48,236.42 167.30,238.60 C170.12,240.78 172.95,244.23 176.00,246.40 C179.05,248.57 182.42,250.02 185.60,251.60 C188.78,253.18 192.72,254.63 195.10,255.90 C197.48,257.17 198.30,257.77 199.90,259.20 C201.50,260.63 203.55,263.12 204.70,264.50 C205.85,265.88 206.45,267.00 206.80,267.50" fill="none" stroke="#008000" stroke-width="1.0" shape-rendering="crispEdges"/>
<path d="M76.81,230.56 L79.81,234.46 L76.81,238.36 L73.81,234.46Z" fill="none" stroke="#000" stroke-width="1.05"/>
<path d="M80.91,226.19 L83.91,230.09 L80.91,233.99 L77.91,230.09Z" fill="none" stroke="#000" stroke-width="1.05"/>
<path d="M85.52,222.42 L88.52,226.32 L85.52,230.22 L82.52,226.32Z" fill="none" stroke="#000" stroke-width="1.05"/>
<path d="M90.66,219.38 L93.66,223.28 L90.66,227.18 L87.66,223.28Z" fill="none" stroke="#000" stroke-width="1.05"/>
<path d="M96.17,217.05 L99.17,220.95 L96.17,224.85 L93.17,220.95Z" fill="none" stroke="#000" stroke-width="1.05"/>
<path d="M102.70,218.80 L105.70,222.70 L102.70,226.60 L99.70,222.70Z" fill="none" stroke="#000" stroke-width="1.05"/>
<path d="M114.30,213.40 L117.30,217.30 L114.30,221.20 L111.30,217.30Z" fill="none" stroke="#000" stroke-width="1.05"/>
<path d="M127.00,209.60 L130.00,213.50 L127.00,217.40 L124.00,213.50Z" fill="none" stroke="#000" stroke-width="1.05"/>
<path d="M139.60,209.30 L142.60,213.20 L139.60,217.10 L136.60,213.20Z" fill="none" stroke="#000" stroke-width="1.05"/>
<path d="M152.50,211.30 L155.50,215.20 L152.50,219.10 L149.50,215.20Z" fill="none" stroke="#000" stroke-width="1.05"/>
<path d="M164.10,214.10 L167.10,218.00 L164.10,221.90 L161.10,218.00Z" fill="none" stroke="#000" stroke-width="1.05"/>
<path d="M173.40,218.20 L176.40,222.10 L173.40,226.00 L170.40,222.10Z" fill="none" stroke="#000" stroke-width="1.05"/>
<path d="M182.00,222.00 L185.00,225.90 L182.00,229.80 L179.00,225.90Z" fill="none" stroke="#000" stroke-width="1.05"/>
<path d="M189.60,225.80 L192.60,229.70 L189.60,233.60 L186.60,229.70Z" fill="none" stroke="#000" stroke-width="1.05"/>
<path d="M196.30,229.60 L199.30,233.50 L196.30,237.40 L193.30,233.50Z" fill="none" stroke="#000" stroke-width="1.05"/>
<path d="M203.00,232.50 L206.00,236.40 L203.00,240.30 L200.00,236.40Z" fill="none" stroke="#000" stroke-width="1.05"/>
<path d="M208.70,235.90 L211.70,239.80 L208.70,243.70 L205.70,239.80Z" fill="none" stroke="#000" stroke-width="1.05"/>
<path d="M214.40,238.20 L217.40,242.10 L214.40,246.00 L211.40,242.10Z" fill="none" stroke="#000" stroke-width="1.05"/>
<path d="M220.20,238.60 L223.20,242.50 L220.20,246.40 L217.20,242.50Z" fill="none" stroke="#000" stroke-width="1.05"/>
<path d="M225.90,244.00 L228.90,247.90 L225.90,251.80 L222.90,247.90Z" fill="none" stroke="#000" stroke-width="1.05"/>
<path d="M230.70,249.70 L233.70,253.60 L230.70,257.50 L227.70,253.60Z" fill="none" stroke="#000" stroke-width="1.05"/>
<path d="M235.40,255.40 L238.40,259.30 L235.40,263.20 L232.40,259.30Z" fill="none" stroke="#000" stroke-width="1.05"/>
<path d="M47.40,280.50 C48.05,279.25 50.15,275.40 51.30,273.00 C52.45,270.60 53.17,268.38 54.30,266.10 C55.43,263.82 56.82,261.58 58.10,259.30 C59.38,257.02 60.63,254.55 62.00,252.40 C63.37,250.25 64.73,248.40 66.30,246.40 C67.87,244.40 69.72,242.37 71.40,240.40 C73.08,238.43 74.50,236.65 76.40,234.60 C78.30,232.55 80.53,229.97 82.80,228.10 C85.07,226.23 87.58,224.70 90.00,223.40 C92.42,222.10 94.97,221.20 97.30,220.30 C99.63,219.40 101.88,218.70 104.00,218.00 C106.12,217.30 107.63,216.83 110.00,216.10 C112.37,215.37 115.47,214.15 118.20,213.60 C120.93,213.05 123.68,212.95 126.40,212.80 C129.12,212.65 131.78,212.63 134.50,212.70 C137.22,212.77 139.97,212.90 142.70,213.20 C145.43,213.50 148.17,213.95 150.90,214.50 C153.63,215.05 156.58,215.83 159.10,216.50 C161.62,217.17 163.48,217.62 166.00,218.50 C168.52,219.38 170.93,220.10 174.20,221.80 C177.47,223.50 182.12,226.60 185.60,228.70 C189.08,230.80 191.92,232.57 195.10,234.40 C198.28,236.23 201.52,238.10 204.70,239.70 C207.88,241.30 211.02,242.65 214.20,244.00 C217.38,245.35 220.62,246.37 223.80,247.80 C226.98,249.23 231.05,251.27 233.30,252.60 C235.55,253.93 236.63,255.27 237.30,255.80" fill="none" stroke="#008000" stroke-width="1.0" shape-rendering="crispEdges"/>
<ellipse cx="77.73" cy="232.56" rx="2.28" ry="3.42" fill="none" stroke="#000" stroke-width="1.05"/>
<ellipse cx="81.97" cy="228.28" rx="2.28" ry="3.42" fill="none" stroke="#000" stroke-width="1.05"/>
<ellipse cx="86.80" cy="224.65" rx="2.28" ry="3.42" fill="none" stroke="#000" stroke-width="1.05"/>
<ellipse cx="91.82" cy="221.35" rx="2.28" ry="3.42" fill="none" stroke="#000" stroke-width="1.05"/>
<ellipse cx="96.87" cy="218.11" rx="2.28" ry="3.42" fill="none" stroke="#000" stroke-width="1.05"/>
<ellipse cx="103.40" cy="217.30" rx="2.28" ry="3.42" fill="none" stroke="#000" stroke-width="1.05"/>
<ellipse cx="115.70" cy="211.10" rx="2.28" ry="3.42" fill="none" stroke="#000" stroke-width="1.05"/>
<ellipse cx="128.40" cy="207.10" rx="2.28" ry="3.42" fill="none" stroke="#000" stroke-width="1.05"/>
<ellipse cx="141.60" cy="205.70" rx="2.28" ry="3.42" fill="none" stroke="#000" stroke-width="1.05"/>
<ellipse cx="156.20" cy="206.40" rx="2.28" ry="3.42" fill="none" stroke="#000" stroke-width="1.05"/>
<ellipse cx="168.20" cy="209.10" rx="2.28" ry="3.42" fill="none" stroke="#000" stroke-width="1.05"/>
<ellipse cx="181.40" cy="211.90" rx="2.28" ry="3.42" fill="none" stroke="#000" stroke-width="1.05"/>
<ellipse cx="192.10" cy="215.80" rx="2.28" ry="3.42" fill="none" stroke="#000" stroke-width="1.05"/>
<ellipse cx="201.10" cy="219.20" rx="2.28" ry="3.42" fill="none" stroke="#000" stroke-width="1.05"/>
<ellipse cx="209.30" cy="223.40" rx="2.28" ry="3.42" fill="none" stroke="#000" stroke-width="1.05"/>
<ellipse cx="215.40" cy="227.20" rx="2.28" ry="3.42" fill="none" stroke="#000" stroke-width="1.05"/>
<ellipse cx="221.10" cy="230.30" rx="2.28" ry="3.42" fill="none" stroke="#000" stroke-width="1.05"/>
<ellipse cx="228.80" cy="232.60" rx="2.28" ry="3.42" fill="none" stroke="#000" stroke-width="1.05"/>
<ellipse cx="235.40" cy="232.60" rx="2.28" ry="3.42" fill="none" stroke="#000" stroke-width="1.05"/>
<ellipse cx="241.20" cy="233.50" rx="2.28" ry="3.42" fill="none" stroke="#000" stroke-width="1.05"/>
<ellipse cx="247.50" cy="238.30" rx="2.28" ry="3.42" fill="none" stroke="#000" stroke-width="1.05"/>
<ellipse cx="251.70" cy="244.00" rx="2.28" ry="3.42" fill="none" stroke="#000" stroke-width="1.05"/>
<ellipse cx="257.00" cy="250.70" rx="2.28" ry="3.42" fill="none" stroke="#000" stroke-width="1.05"/>
<path d="M47.40,280.50 C48.05,279.25 50.15,275.40 51.30,273.00 C52.45,270.60 53.17,268.38 54.30,266.10 C55.43,263.82 56.82,261.58 58.10,259.30 C59.38,257.02 60.63,254.55 62.00,252.40 C63.37,250.25 64.73,248.40 66.30,246.40 C67.87,244.40 69.72,242.37 71.40,240.40 C73.08,238.43 74.50,236.65 76.40,234.60 C78.30,232.55 80.35,230.15 82.80,228.10 C85.25,226.05 88.23,224.18 91.10,222.30 C93.97,220.42 96.85,218.45 100.00,216.80 C103.15,215.15 106.97,213.75 110.00,212.40 C113.03,211.05 115.47,209.65 118.20,208.70 C120.93,207.75 123.68,207.17 126.40,206.70 C129.12,206.23 131.78,206.10 134.50,205.90 C137.22,205.70 139.97,205.50 142.70,205.50 C145.43,205.50 148.17,205.63 150.90,205.90 C153.63,206.17 156.58,206.70 159.10,207.10 C161.62,207.50 163.48,207.82 166.00,208.30 C168.52,208.78 171.47,209.32 174.20,210.00 C176.93,210.68 179.68,211.52 182.40,212.40 C185.12,213.28 187.78,214.13 190.50,215.30 C193.22,216.47 195.97,218.03 198.70,219.40 C201.43,220.77 204.17,222.13 206.90,223.50 C209.63,224.87 211.92,226.05 215.10,227.60 C218.28,229.15 222.82,231.38 226.00,232.80 C229.18,234.22 230.78,234.82 234.20,236.10 C237.62,237.38 243.37,239.22 246.50,240.50 C249.63,241.78 250.70,242.55 253.00,243.80 C255.30,245.05 259.08,247.30 260.30,248.00" fill="none" stroke="#008000" stroke-width="1.0" shape-rendering="crispEdges"/>
<path d="M74.81,230.78 L75.58,232.91 L77.84,232.98 L76.05,234.37 L76.68,236.55 L74.81,235.27 L72.93,236.55 L73.57,234.37 L71.78,232.98 L74.04,232.91Z" fill="none" stroke="#000" stroke-width="1.05"/>
<path d="M79.02,226.23 L79.79,228.36 L82.06,228.43 L80.26,229.82 L80.90,232.00 L79.02,230.72 L77.15,232.00 L77.78,229.82 L75.99,228.43 L78.26,228.36Z" fill="none" stroke="#000" stroke-width="1.05"/>
<path d="M85.00,220.21 L85.77,222.34 L88.03,222.41 L86.24,223.80 L86.88,225.98 L85.00,224.71 L83.12,225.98 L83.76,223.80 L81.97,222.41 L84.23,222.34Z" fill="none" stroke="#000" stroke-width="1.05"/>
<path d="M93.90,214.81 L94.67,216.94 L96.93,217.01 L95.14,218.40 L95.78,220.58 L93.90,219.31 L92.02,220.58 L92.66,218.40 L90.87,217.01 L93.13,216.94Z" fill="none" stroke="#000" stroke-width="1.05"/>
<path d="M105.70,207.31 L106.47,209.44 L108.73,209.51 L106.94,210.90 L107.58,213.08 L105.70,211.81 L103.82,213.08 L104.46,210.90 L102.67,209.51 L104.93,209.44Z" fill="none" stroke="#000" stroke-width="1.05"/>
<path d="M118.40,202.11 L119.17,204.24 L121.43,204.31 L119.64,205.70 L120.28,207.88 L118.40,206.61 L116.52,207.88 L117.16,205.70 L115.37,204.31 L117.63,204.24Z" fill="none" stroke="#000" stroke-width="1.05"/>
<path d="M132.50,198.01 L133.27,200.14 L135.53,200.21 L133.74,201.60 L134.38,203.78 L132.50,202.50 L130.62,203.78 L131.26,201.60 L129.47,200.21 L131.73,200.14Z" fill="none" stroke="#000" stroke-width="1.05"/>
<path d="M147.10,196.11 L147.87,198.24 L150.13,198.31 L148.34,199.70 L148.98,201.88 L147.10,200.61 L145.22,201.88 L145.86,199.70 L144.07,198.31 L146.33,198.24Z" fill="none" stroke="#000" stroke-width="1.05"/>
<path d="M162.80,195.31 L163.57,197.44 L165.83,197.51 L164.04,198.90 L164.68,201.08 L162.80,199.81 L160.92,201.08 L161.56,198.90 L159.77,197.51 L162.03,197.44Z" fill="none" stroke="#000" stroke-width="1.05"/>
<path d="M178.10,196.01 L178.87,198.14 L181.13,198.21 L179.34,199.60 L179.98,201.78 L178.10,200.50 L176.22,201.78 L176.86,199.60 L175.07,198.21 L177.33,198.14Z" fill="none" stroke="#000" stroke-width="1.05"/>
<path d="M191.50,199.21 L192.27,201.34 L194.53,201.41 L192.74,202.80 L193.38,204.98 L191.50,203.71 L189.62,204.98 L190.26,202.80 L188.47,201.41 L190.73,201.34Z" fill="none" stroke="#000" stroke-width="1.05"/>
<path d="M203.90,202.61 L204.67,204.74 L206.93,204.81 L205.14,206.20 L205.78,208.38 L203.90,207.11 L202.02,208.38 L202.66,206.20 L200.87,204.81 L203.13,204.74Z" fill="none" stroke="#000" stroke-width="1.05"/>
<path d="M214.40,206.81 L215.17,208.94 L217.43,209.01 L215.64,210.40 L216.28,212.58 L214.40,211.31 L212.52,212.58 L213.16,210.40 L211.37,209.01 L213.63,208.94Z" fill="none" stroke="#000" stroke-width="1.05"/>
<path d="M224.00,211.21 L224.77,213.34 L227.03,213.41 L225.24,214.80 L225.88,216.98 L224.00,215.71 L222.12,216.98 L222.76,214.80 L220.97,213.41 L223.23,213.34Z" fill="none" stroke="#000" stroke-width="1.05"/>
<path d="M232.60,214.11 L233.37,216.24 L235.63,216.31 L233.84,217.70 L234.48,219.88 L232.60,218.61 L230.72,219.88 L231.36,217.70 L229.57,216.31 L231.83,216.24Z" fill="none" stroke="#000" stroke-width="1.05"/>
<path d="M241.20,217.01 L241.97,219.14 L244.23,219.21 L242.44,220.60 L243.08,222.78 L241.20,221.50 L239.32,222.78 L239.96,220.60 L238.17,219.21 L240.43,219.14Z" fill="none" stroke="#000" stroke-width="1.05"/>
<path d="M248.80,218.91 L249.57,221.04 L251.83,221.11 L250.04,222.50 L250.68,224.68 L248.80,223.41 L246.92,224.68 L247.56,222.50 L245.77,221.11 L248.03,221.04Z" fill="none" stroke="#000" stroke-width="1.05"/>
<path d="M256.40,219.41 L257.17,221.54 L259.43,221.61 L257.64,223.00 L258.28,225.18 L256.40,223.91 L254.52,225.18 L255.16,223.00 L253.37,221.61 L255.63,221.54Z" fill="none" stroke="#000" stroke-width="1.05"/>
<path d="M262.80,219.41 L263.57,221.54 L265.83,221.61 L264.04,223.00 L264.68,225.18 L262.80,223.91 L260.92,225.18 L261.56,223.00 L259.77,221.61 L262.03,221.54Z" fill="none" stroke="#000" stroke-width="1.05"/>
<path d="M268.90,225.61 L269.67,227.74 L271.93,227.81 L270.14,229.20 L270.78,231.38 L268.90,230.11 L267.02,231.38 L267.66,229.20 L265.87,227.81 L268.13,227.74Z" fill="none" stroke="#000" stroke-width="1.05"/>
<path d="M275.20,232.21 L275.97,234.34 L278.23,234.41 L276.44,235.80 L277.08,237.98 L275.20,236.71 L273.32,237.98 L273.96,235.80 L272.17,234.41 L274.43,234.34Z" fill="none" stroke="#000" stroke-width="1.05"/>
<path d="M47.40,280.50 C48.05,279.25 50.15,275.40 51.30,273.00 C52.45,270.60 53.17,268.38 54.30,266.10 C55.43,263.82 56.82,261.58 58.10,259.30 C59.38,257.02 60.63,254.55 62.00,252.40 C63.37,250.25 64.73,248.40 66.30,246.40 C67.87,244.40 69.72,242.37 71.40,240.40 C73.08,238.43 74.50,236.65 76.40,234.60 C78.30,232.55 80.35,230.12 82.80,228.10 C85.25,226.08 88.07,224.60 91.10,222.50 C94.13,220.40 97.85,217.73 101.00,215.50 C104.15,213.27 107.13,210.92 110.00,209.10 C112.87,207.28 115.47,205.75 118.20,204.60 C120.93,203.45 123.68,202.95 126.40,202.20 C129.12,201.45 131.78,200.65 134.50,200.10 C137.22,199.55 139.97,199.23 142.70,198.90 C145.43,198.57 148.17,198.28 150.90,198.10 C153.63,197.92 156.58,197.80 159.10,197.80 C161.62,197.80 163.22,197.85 166.00,198.10 C168.78,198.35 173.07,198.82 175.80,199.30 C178.53,199.78 179.95,200.38 182.40,201.00 C184.85,201.62 187.78,202.33 190.50,203.00 C193.22,203.67 195.97,204.18 198.70,205.00 C201.43,205.82 204.17,206.80 206.90,207.90 C209.63,209.00 211.92,210.13 215.10,211.60 C218.28,213.07 222.82,215.35 226.00,216.70 C229.18,218.05 231.47,218.72 234.20,219.70 C236.93,220.68 239.68,221.78 242.40,222.60 C245.12,223.42 247.78,223.98 250.50,224.60 C253.22,225.22 255.97,225.75 258.70,226.30 C261.43,226.85 264.17,227.37 266.90,227.90 C269.63,228.43 272.65,228.92 275.10,229.50 C277.55,230.08 280.52,231.08 281.60,231.40" fill="none" stroke="#008000" stroke-width="1.0" shape-rendering="crispEdges"/>
<rect x="462.55" y="274.42" width="4.50" height="4.50" fill="#000" stroke="#000" stroke-width="0.9"/>
<rect x="463.85" y="271.65" width="4.50" height="4.50" fill="#000" stroke="#000" stroke-width="0.9"/>
<rect x="465.15" y="268.35" width="4.50" height="4.50" fill="#000" stroke="#000" stroke-width="0.9"/>
<rect x="467.25" y="264.95" width="4.50" height="4.50" fill="#000" stroke="#000" stroke-width="0.9"/>
<rect x="469.25" y="261.55" width="4.50" height="4.50" fill="#000" stroke="#000" stroke-width="0.9"/>
<rect x="471.95" y="258.15" width="4.50" height="4.50" fill="#000" stroke="#000" stroke-width="0.9"/>
<rect x="475.35" y="254.75" width="4.50" height="4.50" fill="#000" stroke="#000" stroke-width="0.9"/>
<rect x="481.05" y="253.05" width="4.50" height="4.50" fill="#000" stroke="#000" stroke-width="0.9"/>
<rect x="488.25" y="250.75" width="4.50" height="4.50" fill="#000" stroke="#000" stroke-width="0.9"/>
<rect x="497.05" y="250.75" width="4.50" height="4.50" fill="#000" stroke="#000" stroke-width="0.9"/>
<rect x="505.15" y="254.35" width="4.50" height="4.50" fill="#000" stroke="#000" stroke-width="0.9"/>
<rect x="511.65" y="258.45" width="4.50" height="4.50" fill="#000" stroke="#000" stroke-width="0.9"/>
<rect x="515.65" y="263.55" width="4.50" height="4.50" fill="#000" stroke="#000" stroke-width="0.9"/>
<rect x="517.35" y="268.75" width="4.50" height="4.50" fill="#000" stroke="#000" stroke-width="0.9"/>
<rect x="517.35" y="272.35" width="4.50" height="4.50" fill="#000" stroke="#000" stroke-width="0.9"/>
<path d="M464.00,278.50 C464.50,277.42 465.83,274.17 467.00,272.00 C468.17,269.83 469.58,267.38 471.00,265.50 C472.42,263.62 473.83,262.17 475.50,260.70 C477.17,259.23 479.25,257.73 481.00,256.70 C482.75,255.67 484.20,255.02 486.00,254.50 C487.80,253.98 490.12,253.78 491.80,253.60 C493.48,253.42 494.40,253.25 496.10,253.40 C497.80,253.55 500.02,253.98 502.00,254.50 C503.98,255.02 506.02,255.58 508.00,256.50 C509.98,257.42 512.32,258.67 513.90,260.00 C515.48,261.33 516.57,263.08 517.50,264.50 C518.43,265.92 519.00,267.25 519.50,268.50 C520.00,269.75 520.33,271.42 520.50,272.00" fill="none" stroke="#008000" stroke-width="1.0" shape-rendering="crispEdges"/>
<path d="M465.29,273.92 L467.89,279.12 L462.69,279.12Z" fill="#000" stroke="#000" stroke-width="0.9"/>
<path d="M466.33,270.10 L468.93,275.30 L463.73,275.30Z" fill="#000" stroke="#000" stroke-width="0.9"/>
<path d="M467.70,266.53 L470.30,271.73 L465.10,271.73Z" fill="#000" stroke="#000" stroke-width="0.9"/>
<path d="M470.14,263.64 L472.74,268.84 L467.54,268.84Z" fill="#000" stroke="#000" stroke-width="0.9"/>
<path d="M473.19,261.06 L475.79,266.26 L470.59,266.26Z" fill="#000" stroke="#000" stroke-width="0.9"/>
<path d="M474.67,257.15 L477.27,262.35 L472.07,262.35Z" fill="#000" stroke="#000" stroke-width="0.9"/>
<path d="M476.26,253.50 L478.86,258.70 L473.66,258.70Z" fill="#000" stroke="#000" stroke-width="0.9"/>
<path d="M478.00,248.64 L480.60,253.84 L475.40,253.84Z" fill="#000" stroke="#000" stroke-width="0.9"/>
<path d="M484.10,243.84 L486.70,249.04 L481.50,249.04Z" fill="#000" stroke="#000" stroke-width="0.9"/>
<path d="M493.20,237.64 L495.80,242.84 L490.60,242.84Z" fill="#000" stroke="#000" stroke-width="0.9"/>
<path d="M506.00,233.64 L508.60,238.84 L503.40,238.84Z" fill="#000" stroke="#000" stroke-width="0.9"/>
<path d="M520.10,233.34 L522.70,238.54 L517.50,238.54Z" fill="#000" stroke="#000" stroke-width="0.9"/>
<path d="M534.10,237.44 L536.70,242.64 L531.50,242.64Z" fill="#000" stroke="#000" stroke-width="0.9"/>
<path d="M544.20,244.64 L546.80,249.84 L541.60,249.84Z" fill="#000" stroke="#000" stroke-width="0.9"/>
<path d="M550.20,253.04 L552.80,258.24 L547.60,258.24Z" fill="#000" stroke="#000" stroke-width="0.9"/>
<path d="M553.80,260.24 L556.40,265.44 L551.20,265.44Z" fill="#000" stroke="#000" stroke-width="0.9"/>
<path d="M556.20,265.84 L558.80,271.04 L553.60,271.04Z" fill="#000" stroke="#000" stroke-width="0.9"/>
<path d="M464.00,278.50 C464.42,277.08 465.58,272.08 466.50,270.00 C467.42,267.92 468.55,266.98 469.50,266.00 C470.45,265.02 471.30,265.55 472.20,264.10 C473.10,262.65 473.90,259.33 474.90,257.30 C475.90,255.27 476.68,253.70 478.20,251.90 C479.72,250.10 481.40,248.13 484.00,246.50 C486.60,244.87 490.80,243.30 493.80,242.10 C496.80,240.90 499.28,239.93 502.00,239.30 C504.72,238.67 507.10,238.43 510.10,238.30 C513.10,238.17 516.73,237.98 520.00,238.50 C523.27,239.02 526.70,240.32 529.70,241.40 C532.70,242.48 535.45,243.57 538.00,245.00 C540.55,246.43 542.83,248.17 545.00,250.00 C547.17,251.83 549.33,254.17 551.00,256.00 C552.67,257.83 553.93,259.42 555.00,261.00 C556.07,262.58 557.00,264.75 557.40,265.50" fill="none" stroke="#008000" stroke-width="1.0" shape-rendering="crispEdges"/>
<path d="M466.60,273.84 L469.40,277.06 L466.60,280.28 L463.80,277.06Z" fill="#000" stroke="#000" stroke-width="0.9"/>
<path d="M467.51,269.96 L470.31,273.18 L467.51,276.40 L464.71,273.18Z" fill="#000" stroke="#000" stroke-width="0.9"/>
<path d="M468.47,266.13 L471.27,269.35 L468.47,272.57 L465.67,269.35Z" fill="#000" stroke="#000" stroke-width="0.9"/>
<path d="M469.56,262.36 L472.36,265.58 L469.56,268.80 L466.76,265.58Z" fill="#000" stroke="#000" stroke-width="0.9"/>
<path d="M470.75,258.62 L473.55,261.84 L470.75,265.06 L467.95,261.84Z" fill="#000" stroke="#000" stroke-width="0.9"/>
<path d="M472.09,255.03 L474.89,258.25 L472.09,261.47 L469.29,258.25Z" fill="#000" stroke="#000" stroke-width="0.9"/>
<path d="M473.77,251.64 L476.57,254.86 L473.77,258.08 L470.97,254.86Z" fill="#000" stroke="#000" stroke-width="0.9"/>
<path d="M475.81,248.32 L478.61,251.54 L475.81,254.76 L473.01,251.54Z" fill="#000" stroke="#000" stroke-width="0.9"/>
<path d="M476.90,244.28 L479.70,247.50 L476.90,250.72 L474.10,247.50Z" fill="#000" stroke="#000" stroke-width="0.9"/>
<path d="M483.00,235.28 L485.80,238.50 L483.00,241.72 L480.20,238.50Z" fill="#000" stroke="#000" stroke-width="0.9"/>
<path d="M493.20,222.88 L496.00,226.10 L493.20,229.32 L490.40,226.10Z" fill="#000" stroke="#000" stroke-width="0.9"/>
<path d="M508.10,210.58 L510.90,213.80 L508.10,217.02 L505.30,213.80Z" fill="#000" stroke="#000" stroke-width="0.9"/>
<path d="M529.30,199.28 L532.10,202.50 L529.30,205.72 L526.50,202.50Z" fill="#000" stroke="#000" stroke-width="0.9"/>
<path d="M555.00,192.58 L557.80,195.80 L555.00,199.02 L552.20,195.80Z" fill="#000" stroke="#000" stroke-width="0.9"/>
<path d="M583.20,193.78 L586.00,197.00 L583.20,200.22 L580.40,197.00Z" fill="#000" stroke="#000" stroke-width="0.9"/>
<path d="M609.00,203.08 L611.80,206.30 L609.00,209.52 L606.20,206.30Z" fill="#000" stroke="#000" stroke-width="0.9"/>
<path d="M628.00,216.38 L630.80,219.60 L628.00,222.82 L625.20,219.60Z" fill="#000" stroke="#000" stroke-width="0.9"/>
<path d="M640.60,230.48 L643.40,233.70 L640.60,236.92 L637.80,233.70Z" fill="#000" stroke="#000" stroke-width="0.9"/>
<path d="M647.80,243.08 L650.60,246.30 L647.80,249.52 L645.00,246.30Z" fill="#000" stroke="#000" stroke-width="0.9"/>
<path d="M651.60,252.58 L654.40,255.80 L651.60,259.02 L648.80,255.80Z" fill="#000" stroke="#000" stroke-width="0.9"/>
<path d="M652.60,256.38 L655.40,259.60 L652.60,262.82 L649.80,259.60Z" fill="#000" stroke="#000" stroke-width="0.9"/>
<path d="M653.30,259.98 L656.10,263.20 L653.30,266.42 L650.50,263.20Z" fill="#000" stroke="#000" stroke-width="0.9"/>
<path d="M653.80,263.58 L656.60,266.80 L653.80,270.02 L651.00,266.80Z" fill="#000" stroke="#000" stroke-width="0.9"/>
<path d="M654.10,266.88 L656.90,270.10 L654.10,273.32 L651.30,270.10Z" fill="#000" stroke="#000" stroke-width="0.9"/>
<path d="M464.00,278.50 C464.45,276.67 465.68,271.03 466.70,267.50 C467.72,263.97 468.92,260.12 470.10,257.30 C471.28,254.48 472.48,252.73 473.80,250.60 C475.12,248.47 476.62,246.47 478.00,244.50 C479.38,242.53 480.43,241.05 482.10,238.80 C483.77,236.55 485.95,233.47 488.00,231.00 C490.05,228.53 491.28,227.00 494.40,224.00 C497.52,221.00 502.60,215.87 506.70,213.00 C510.80,210.13 514.90,208.65 519.00,206.80 C523.10,204.95 527.22,203.22 531.30,201.90 C535.38,200.58 539.42,199.67 543.50,198.90 C547.58,198.13 551.38,197.62 555.80,197.30 C560.22,196.98 565.43,196.92 570.00,197.00 C574.57,197.08 578.28,196.72 583.20,197.80 C588.12,198.88 595.12,201.90 599.50,203.50 C603.88,205.10 604.75,204.93 609.50,207.40 C614.25,209.87 622.73,214.10 628.00,218.30 C633.27,222.50 637.35,227.40 641.10,232.60 C644.85,237.80 647.88,243.88 650.50,249.50 C653.12,255.12 655.75,263.50 656.80,266.30" fill="none" stroke="#008000" stroke-width="1.0" shape-rendering="crispEdges"/>
<path d="M463.09,273.92 L468.29,276.78 L463.09,279.64Z" fill="#000" stroke="#000" stroke-width="0.9"/>
<path d="M464.00,270.03 L469.20,272.89 L464.00,275.75Z" fill="#000" stroke="#000" stroke-width="0.9"/>
<path d="M464.97,266.18 L470.17,269.04 L464.97,271.90Z" fill="#000" stroke="#000" stroke-width="0.9"/>
<path d="M466.07,262.37 L471.27,265.23 L466.07,268.09Z" fill="#000" stroke="#000" stroke-width="0.9"/>
<path d="M467.28,258.59 L472.48,261.45 L467.28,264.31Z" fill="#000" stroke="#000" stroke-width="0.9"/>
<path d="M468.64,254.92 L473.84,257.78 L468.64,260.64Z" fill="#000" stroke="#000" stroke-width="0.9"/>
<path d="M470.43,251.41 L475.63,254.27 L470.43,257.13Z" fill="#000" stroke="#000" stroke-width="0.9"/>
<path d="M471.86,246.74 L477.06,249.60 L471.86,252.46Z" fill="#000" stroke="#000" stroke-width="0.9"/>
<path d="M477.26,237.94 L482.46,240.80 L477.26,243.66Z" fill="#000" stroke="#000" stroke-width="0.9"/>
<path d="M484.76,226.44 L489.96,229.30 L484.76,232.16Z" fill="#000" stroke="#000" stroke-width="0.9"/>
<path d="M496.96,212.84 L502.16,215.70 L496.96,218.56Z" fill="#000" stroke="#000" stroke-width="0.9"/>
<path d="M515.16,197.94 L520.36,200.80 L515.16,203.66Z" fill="#000" stroke="#000" stroke-width="0.9"/>
<path d="M540.66,184.54 L545.86,187.40 L540.66,190.26Z" fill="#000" stroke="#000" stroke-width="0.9"/>
<path d="M570.76,176.04 L575.96,178.90 L570.76,181.76Z" fill="#000" stroke="#000" stroke-width="0.9"/>
<path d="M605.06,177.54 L610.26,180.40 L605.06,183.26Z" fill="#000" stroke="#000" stroke-width="0.9"/>
<path d="M636.16,188.34 L641.36,191.20 L636.16,194.06Z" fill="#000" stroke="#000" stroke-width="0.9"/>
<path d="M658.06,204.94 L663.26,207.80 L658.06,210.66Z" fill="#000" stroke="#000" stroke-width="0.9"/>
<path d="M673.46,221.74 L678.66,224.60 L673.46,227.46Z" fill="#000" stroke="#000" stroke-width="0.9"/>
<path d="M682.96,237.14 L688.16,240.00 L682.96,242.86Z" fill="#000" stroke="#000" stroke-width="0.9"/>
<path d="M686.76,248.34 L691.96,251.20 L686.76,254.06Z" fill="#000" stroke="#000" stroke-width="0.9"/>
<path d="M689.26,257.14 L694.46,260.00 L689.26,262.86Z" fill="#000" stroke="#000" stroke-width="0.9"/>
<path d="M689.86,261.14 L695.06,264.00 L689.86,266.86Z" fill="#000" stroke="#000" stroke-width="0.9"/>
<path d="M690.26,264.54 L695.46,267.40 L690.26,270.26Z" fill="#000" stroke="#000" stroke-width="0.9"/>
<path d="M464.00,278.50 C464.45,276.67 465.68,271.03 466.70,267.50 C467.72,263.97 468.92,260.12 470.10,257.30 C471.28,254.48 472.65,252.65 473.80,250.60 C474.95,248.55 475.63,247.30 477.00,245.00 C478.37,242.70 480.12,239.48 482.00,236.80 C483.88,234.12 486.30,231.45 488.30,228.90 C490.30,226.35 491.95,223.85 494.00,221.50 C496.05,219.15 497.47,217.75 500.60,214.80 C503.73,211.85 508.72,207.07 512.80,203.80 C516.88,200.53 521.00,197.57 525.10,195.20 C529.20,192.83 533.30,191.25 537.40,189.60 C541.50,187.95 544.93,186.52 549.70,185.30 C554.47,184.08 561.70,182.97 566.00,182.30 C570.30,181.63 571.50,181.43 575.50,181.30 C579.50,181.17 585.03,181.30 590.00,181.50 C594.97,181.70 600.30,181.75 605.30,182.50 C610.30,183.25 614.75,184.32 620.00,186.00 C625.25,187.68 630.32,189.03 636.80,192.60 C643.28,196.17 652.58,202.30 658.90,207.40 C665.22,212.50 669.78,216.88 674.70,223.20 C679.62,229.52 684.95,238.88 688.40,245.30 C691.85,251.72 694.23,258.97 695.40,261.70" fill="none" stroke="#008000" stroke-width="1.0" shape-rendering="crispEdges"/>
<rect x="56.28" y="606.80" width="4.60" height="4.60" fill="#000" stroke="#000" stroke-width="0.9"/>
<rect x="57.56" y="603.50" width="4.60" height="4.60" fill="#000" stroke="#000" stroke-width="0.9"/>
<rect x="59.06" y="600.30" width="4.60" height="4.60" fill="#000" stroke="#000" stroke-width="0.9"/>
<rect x="60.63" y="597.06" width="4.60" height="4.60" fill="#000" stroke="#000" stroke-width="0.9"/>
<rect x="62.17" y="593.80" width="4.60" height="4.60" fill="#000" stroke="#000" stroke-width="0.9"/>
<rect x="63.70" y="590.59" width="4.60" height="4.60" fill="#000" stroke="#000" stroke-width="0.9"/>
<rect x="65.36" y="587.50" width="4.60" height="4.60" fill="#000" stroke="#000" stroke-width="0.9"/>
<rect x="67.22" y="584.53" width="4.60" height="4.60" fill="#000" stroke="#000" stroke-width="0.9"/>
<rect x="69.24" y="581.64" width="4.60" height="4.60" fill="#000" stroke="#000" stroke-width="0.9"/>
<rect x="71.39" y="578.86" width="4.60" height="4.60" fill="#000" stroke="#000" stroke-width="0.9"/>
<rect x="73.70" y="576.19" width="4.60" height="4.60" fill="#000" stroke="#000" stroke-width="0.9"/>
<rect x="76.10" y="573.56" width="4.60" height="4.60" fill="#000" stroke="#000" stroke-width="0.9"/>
<rect x="78.58" y="570.97" width="4.60" height="4.60" fill="#000" stroke="#000" stroke-width="0.9"/>
<rect x="80.50" y="565.30" width="4.60" height="4.60" fill="#000" stroke="#000" stroke-width="0.9"/>
<rect x="93.30" y="556.70" width="4.60" height="4.60" fill="#000" stroke="#000" stroke-width="0.9"/>
<rect x="111.50" y="550.40" width="4.60" height="4.60" fill="#000" stroke="#000" stroke-width="0.9"/>
<rect x="131.10" y="548.60" width="4.60" height="4.60" fill="#000" stroke="#000" stroke-width="0.9"/>
<rect x="149.20" y="552.80" width="4.60" height="4.60" fill="#000" stroke="#000" stroke-width="0.9"/>
<rect x="165.10" y="562.10" width="4.60" height="4.60" fill="#000" stroke="#000" stroke-width="0.9"/>
<rect x="176.10" y="572.30" width="4.60" height="4.60" fill="#000" stroke="#000" stroke-width="0.9"/>
<rect x="182.20" y="583.20" width="4.60" height="4.60" fill="#000" stroke="#000" stroke-width="0.9"/>
<rect x="185.20" y="590.40" width="4.60" height="4.60" fill="#000" stroke="#000" stroke-width="0.9"/>
<rect x="185.80" y="595.80" width="4.60" height="4.60" fill="#000" stroke="#000" stroke-width="0.9"/>
<path d="M54.55,605.09 L57.15,610.29 L51.95,610.29Z" fill="#000" stroke="#000" stroke-width="0.9"/>
<path d="M55.37,601.47 L57.97,606.67 L52.77,606.67Z" fill="#000" stroke="#000" stroke-width="0.9"/>
<path d="M56.52,597.91 L59.12,603.11 L53.92,603.11Z" fill="#000" stroke="#000" stroke-width="0.9"/>
<path d="M57.69,594.48 L60.29,599.68 L55.09,599.68Z" fill="#000" stroke="#000" stroke-width="0.9"/>
<path d="M58.86,591.05 L61.46,596.25 L56.26,596.25Z" fill="#000" stroke="#000" stroke-width="0.9"/>
<path d="M60.12,587.59 L62.72,592.79 L57.52,592.79Z" fill="#000" stroke="#000" stroke-width="0.9"/>
<path d="M61.51,584.17 L64.11,589.37 L58.91,589.37Z" fill="#000" stroke="#000" stroke-width="0.9"/>
<path d="M63.01,580.85 L65.61,586.05 L60.41,586.05Z" fill="#000" stroke="#000" stroke-width="0.9"/>
<path d="M67.60,575.94 L70.20,581.14 L65.00,581.14Z" fill="#000" stroke="#000" stroke-width="0.9"/>
<path d="M74.20,564.34 L76.80,569.54 L71.60,569.54Z" fill="#000" stroke="#000" stroke-width="0.9"/>
<path d="M85.10,549.84 L87.70,555.04 L82.50,555.04Z" fill="#000" stroke="#000" stroke-width="0.9"/>
<path d="M101.90,534.04 L104.50,539.24 L99.30,539.24Z" fill="#000" stroke="#000" stroke-width="0.9"/>
<path d="M125.20,520.54 L127.80,525.74 L122.60,525.74Z" fill="#000" stroke="#000" stroke-width="0.9"/>
<path d="M155.00,512.64 L157.60,517.84 L152.40,517.84Z" fill="#000" stroke="#000" stroke-width="0.9"/>
<path d="M186.60,514.54 L189.20,519.74 L184.00,519.74Z" fill="#000" stroke="#000" stroke-width="0.9"/>
<path d="M215.50,524.74 L218.10,529.94 L212.90,529.94Z" fill="#000" stroke="#000" stroke-width="0.9"/>
<path d="M237.90,539.74 L240.50,544.94 L235.30,544.94Z" fill="#000" stroke="#000" stroke-width="0.9"/>
<path d="M252.20,556.74 L254.80,561.94 L249.60,561.94Z" fill="#000" stroke="#000" stroke-width="0.9"/>
<path d="M260.10,571.74 L262.70,576.94 L257.50,576.94Z" fill="#000" stroke="#000" stroke-width="0.9"/>
<path d="M262.20,583.44 L264.80,588.64 L259.60,588.64Z" fill="#000" stroke="#000" stroke-width="0.9"/>
<path d="M56.53,605.26 L59.18,608.31 L56.53,611.35 L53.88,608.31Z" fill="#000" stroke="#000" stroke-width="0.9"/>
<path d="M57.92,601.71 L60.57,604.75 L57.92,607.80 L55.27,604.75Z" fill="#000" stroke="#000" stroke-width="0.9"/>
<path d="M59.55,598.25 L62.20,601.29 L59.55,604.34 L56.90,601.29Z" fill="#000" stroke="#000" stroke-width="0.9"/>
<path d="M61.20,594.82 L63.85,597.87 L61.20,600.92 L58.55,597.87Z" fill="#000" stroke="#000" stroke-width="0.9"/>
<path d="M62.82,591.38 L65.47,594.43 L62.82,597.48 L60.17,594.43Z" fill="#000" stroke="#000" stroke-width="0.9"/>
<path d="M64.49,587.95 L67.14,590.99 L64.49,594.04 L61.84,590.99Z" fill="#000" stroke="#000" stroke-width="0.9"/>
<path d="M66.38,584.61 L69.03,587.66 L66.38,590.70 L63.73,587.66Z" fill="#000" stroke="#000" stroke-width="0.9"/>
<path d="M68.48,581.40 L71.13,584.45 L68.48,587.49 L65.83,584.45Z" fill="#000" stroke="#000" stroke-width="0.9"/>
<path d="M70.74,578.30 L73.39,581.35 L70.74,584.40 L68.09,581.35Z" fill="#000" stroke="#000" stroke-width="0.9"/>
<path d="M73.16,575.34 L75.81,578.38 L73.16,581.43 L70.51,578.38Z" fill="#000" stroke="#000" stroke-width="0.9"/>
<path d="M75.71,572.49 L78.36,575.54 L75.71,578.58 L73.06,575.54Z" fill="#000" stroke="#000" stroke-width="0.9"/>
<path d="M78.32,569.71 L80.97,572.75 L78.32,575.80 L75.67,572.75Z" fill="#000" stroke="#000" stroke-width="0.9"/>
<path d="M81.01,567.00 L83.66,570.05 L81.01,573.09 L78.36,570.05Z" fill="#000" stroke="#000" stroke-width="0.9"/>
<path d="M83.80,564.40 L86.45,567.45 L83.80,570.49 L81.15,567.45Z" fill="#000" stroke="#000" stroke-width="0.9"/>
<path d="M87.50,559.45 L90.15,562.50 L87.50,565.55 L84.85,562.50Z" fill="#000" stroke="#000" stroke-width="0.9"/>
<path d="M100.70,551.35 L103.35,554.40 L100.70,557.45 L98.05,554.40Z" fill="#000" stroke="#000" stroke-width="0.9"/>
<path d="M119.40,541.25 L122.05,544.30 L119.40,547.35 L116.75,544.30Z" fill="#000" stroke="#000" stroke-width="0.9"/>
<path d="M140.30,536.65 L142.95,539.70 L140.30,542.75 L137.65,539.70Z" fill="#000" stroke="#000" stroke-width="0.9"/>
<path d="M162.00,536.65 L164.65,539.70 L162.00,542.75 L159.35,539.70Z" fill="#000" stroke="#000" stroke-width="0.9"/>
<path d="M183.20,541.25 L185.85,544.30 L183.20,547.35 L180.55,544.30Z" fill="#000" stroke="#000" stroke-width="0.9"/>
<path d="M202.00,548.05 L204.65,551.10 L202.00,554.15 L199.35,551.10Z" fill="#000" stroke="#000" stroke-width="0.9"/>
<path d="M217.00,557.25 L219.65,560.30 L217.00,563.35 L214.35,560.30Z" fill="#000" stroke="#000" stroke-width="0.9"/>
<path d="M227.60,566.25 L230.25,569.30 L227.60,572.35 L224.95,569.30Z" fill="#000" stroke="#000" stroke-width="0.9"/>
<path d="M234.70,574.75 L237.35,577.80 L234.70,580.85 L232.05,577.80Z" fill="#000" stroke="#000" stroke-width="0.9"/>
<path d="M241.50,581.15 L244.15,584.20 L241.50,587.25 L238.85,584.20Z" fill="#000" stroke="#000" stroke-width="0.9"/>
<path d="M242.80,582.45 L245.45,585.50 L242.80,588.55 L240.15,585.50Z" fill="#000" stroke="#000" stroke-width="0.9"/>
<path d="M244.70,585.45 L247.35,588.50 L244.70,591.55 L242.05,588.50Z" fill="#000" stroke="#000" stroke-width="0.9"/>
<path d="M246.50,587.45 L249.15,590.50 L246.50,593.55 L243.85,590.50Z" fill="#000" stroke="#000" stroke-width="0.9"/>
<path d="M249.40,592.85 L252.05,595.90 L249.40,598.95 L246.75,595.90Z" fill="#000" stroke="#000" stroke-width="0.9"/>
<rect x="55.35" y="606.44" width="4.60" height="4.60" fill="#fff" stroke="#000" stroke-width="0.9"/>
<rect x="55.35" y="606.44" width="4.60" height="2.30" fill="#000"/>
<rect x="56.81" y="602.75" width="4.60" height="4.60" fill="#fff" stroke="#000" stroke-width="0.9"/>
<rect x="56.81" y="602.75" width="4.60" height="2.30" fill="#000"/>
<rect x="58.51" y="599.15" width="4.60" height="4.60" fill="#fff" stroke="#000" stroke-width="0.9"/>
<rect x="58.51" y="599.15" width="4.60" height="2.30" fill="#000"/>
<rect x="60.24" y="595.55" width="4.60" height="4.60" fill="#fff" stroke="#000" stroke-width="0.9"/>
<rect x="60.24" y="595.55" width="4.60" height="2.30" fill="#000"/>
<rect x="61.94" y="591.93" width="4.60" height="4.60" fill="#fff" stroke="#000" stroke-width="0.9"/>
<rect x="61.94" y="591.93" width="4.60" height="2.30" fill="#000"/>
<rect x="63.72" y="588.38" width="4.60" height="4.60" fill="#fff" stroke="#000" stroke-width="0.9"/>
<rect x="63.72" y="588.38" width="4.60" height="2.30" fill="#000"/>
<rect x="65.74" y="584.97" width="4.60" height="4.60" fill="#fff" stroke="#000" stroke-width="0.9"/>
<rect x="65.74" y="584.97" width="4.60" height="2.30" fill="#000"/>
<rect x="67.97" y="581.69" width="4.60" height="4.60" fill="#fff" stroke="#000" stroke-width="0.9"/>
<rect x="67.97" y="581.69" width="4.60" height="2.30" fill="#000"/>
<rect x="70.37" y="578.54" width="4.60" height="4.60" fill="#fff" stroke="#000" stroke-width="0.9"/>
<rect x="70.37" y="578.54" width="4.60" height="2.30" fill="#000"/>
<rect x="72.95" y="575.52" width="4.60" height="4.60" fill="#fff" stroke="#000" stroke-width="0.9"/>
<rect x="72.95" y="575.52" width="4.60" height="2.30" fill="#000"/>
<rect x="75.65" y="572.59" width="4.60" height="4.60" fill="#fff" stroke="#000" stroke-width="0.9"/>
<rect x="75.65" y="572.59" width="4.60" height="2.30" fill="#000"/>
<rect x="78.41" y="569.72" width="4.60" height="4.60" fill="#fff" stroke="#000" stroke-width="0.9"/>
<rect x="78.41" y="569.72" width="4.60" height="2.30" fill="#000"/>
<rect x="81.27" y="566.97" width="4.60" height="4.60" fill="#fff" stroke="#000" stroke-width="0.9"/>
<rect x="81.27" y="566.97" width="4.60" height="2.30" fill="#000"/>
<rect x="84.30" y="564.38" width="4.60" height="4.60" fill="#fff" stroke="#000" stroke-width="0.9"/>
<rect x="84.30" y="564.38" width="4.60" height="2.30" fill="#000"/>
<rect x="86.30" y="558.40" width="4.60" height="4.60" fill="#fff" stroke="#000" stroke-width="0.9"/>
<rect x="86.30" y="558.40" width="4.60" height="2.30" fill="#000"/>
<rect x="100.80" y="547.40" width="4.60" height="4.60" fill="#fff" stroke="#000" stroke-width="0.9"/>
<rect x="100.80" y="547.40" width="4.60" height="2.30" fill="#000"/>
<rect x="119.40" y="539.20" width="4.60" height="4.60" fill="#fff" stroke="#000" stroke-width="0.9"/>
<rect x="119.40" y="539.20" width="4.60" height="2.30" fill="#000"/>
<rect x="142.90" y="532.70" width="4.60" height="4.60" fill="#fff" stroke="#000" stroke-width="0.9"/>
<rect x="142.90" y="532.70" width="4.60" height="2.30" fill="#000"/>
<rect x="165.50" y="533.40" width="4.60" height="4.60" fill="#fff" stroke="#000" stroke-width="0.9"/>
<rect x="165.50" y="533.40" width="4.60" height="2.30" fill="#000"/>
<rect x="187.30" y="537.70" width="4.60" height="4.60" fill="#fff" stroke="#000" stroke-width="0.9"/>
<rect x="187.30" y="537.70" width="4.60" height="2.30" fill="#000"/>
<rect x="207.20" y="545.60" width="4.60" height="4.60" fill="#fff" stroke="#000" stroke-width="0.9"/>
<rect x="207.20" y="545.60" width="4.60" height="2.30" fill="#000"/>
<rect x="223.20" y="554.80" width="4.60" height="4.60" fill="#fff" stroke="#000" stroke-width="0.9"/>
<rect x="223.20" y="554.80" width="4.60" height="2.30" fill="#000"/>
<rect x="234.90" y="564.80" width="4.60" height="4.60" fill="#fff" stroke="#000" stroke-width="0.9"/>
<rect x="234.90" y="564.80" width="4.60" height="2.30" fill="#000"/>
<rect x="241.80" y="573.40" width="4.60" height="4.60" fill="#fff" stroke="#000" stroke-width="0.9"/>
<rect x="241.80" y="573.40" width="4.60" height="2.30" fill="#000"/>
<rect x="248.80" y="578.70" width="4.60" height="4.60" fill="#fff" stroke="#000" stroke-width="0.9"/>
<rect x="248.80" y="578.70" width="4.60" height="2.30" fill="#000"/>
<rect x="253.10" y="584.70" width="4.60" height="4.60" fill="#fff" stroke="#000" stroke-width="0.9"/>
<rect x="253.10" y="584.70" width="4.60" height="2.30" fill="#000"/>
<path d="M56.80,610.50 C56.93,609.92 56.75,609.12 57.60,607.00 C58.45,604.88 60.48,600.75 61.90,597.80 C63.32,594.85 64.53,592.00 66.10,589.30 C67.67,586.60 69.43,584.03 71.30,581.60 C73.17,579.17 75.30,576.85 77.30,574.70 C79.30,572.55 81.30,570.55 83.30,568.70 C85.30,566.85 87.52,564.97 89.30,563.60 C91.08,562.23 92.17,561.40 94.00,560.50 C95.83,559.60 98.12,558.93 100.30,558.20 C102.48,557.47 104.85,556.75 107.10,556.10 C109.35,555.45 110.82,554.73 113.80,554.30 C116.78,553.87 120.63,553.58 125.00,553.50 C129.37,553.42 135.58,553.38 140.00,553.80 C144.42,554.22 147.67,554.72 151.50,556.00 C155.33,557.28 159.92,559.67 163.00,561.50 C166.08,563.33 167.67,565.08 170.00,567.00 C172.33,568.92 175.00,571.17 177.00,573.00 C179.00,574.83 180.62,576.25 182.00,578.00 C183.38,579.75 184.30,581.83 185.30,583.50 C186.30,585.17 187.22,586.58 188.00,588.00 C188.78,589.42 189.67,591.33 190.00,592.00" fill="none" stroke="#008000" stroke-width="1.0" shape-rendering="crispEdges"/>
<path d="M56.80,610.50 C56.93,609.75 57.12,607.83 57.60,606.00 C58.08,604.17 58.85,602.00 59.70,599.50 C60.55,597.00 61.63,593.70 62.70,591.00 C63.77,588.30 64.82,585.87 66.10,583.30 C67.38,580.73 68.82,578.18 70.40,575.60 C71.98,573.02 73.88,570.08 75.60,567.80 C77.32,565.52 78.83,564.18 80.70,561.90 C82.57,559.62 84.67,556.63 86.80,554.10 C88.93,551.57 90.92,549.23 93.50,546.70 C96.08,544.17 99.48,540.93 102.30,538.90 C105.12,536.87 107.80,535.92 110.40,534.50 C113.00,533.08 115.32,531.82 117.90,530.40 C120.48,528.98 122.55,527.43 125.90,526.00 C129.25,524.57 133.73,522.90 138.00,521.80 C142.27,520.70 146.17,519.78 151.50,519.40 C156.83,519.02 164.15,519.48 170.00,519.50 C175.85,519.52 181.60,519.08 186.60,519.50 C191.60,519.92 195.18,520.72 200.00,522.00 C204.82,523.28 211.00,525.28 215.50,527.20 C220.00,529.12 223.27,531.12 227.00,533.50 C230.73,535.88 234.73,538.92 237.90,541.50 C241.07,544.08 243.45,546.33 246.00,549.00 C248.55,551.67 250.87,554.58 253.20,557.50 C255.53,560.42 257.68,563.12 260.00,566.50 C262.32,569.88 265.92,575.92 267.10,577.80" fill="none" stroke="#008000" stroke-width="1.0" shape-rendering="crispEdges"/>
<path d="M56.80,610.50 C56.93,609.92 56.75,609.12 57.60,607.00 C58.45,604.88 60.48,600.75 61.90,597.80 C63.32,594.85 64.53,592.00 66.10,589.30 C67.67,586.60 69.43,584.03 71.30,581.60 C73.17,579.17 75.30,576.85 77.30,574.70 C79.30,572.55 81.30,570.55 83.30,568.70 C85.30,566.85 87.03,565.63 89.30,563.60 C91.57,561.57 94.50,558.65 96.90,556.50 C99.30,554.35 101.45,552.30 103.70,550.70 C105.95,549.10 108.15,547.85 110.40,546.90 C112.65,545.95 114.77,545.55 117.20,545.00 C119.63,544.45 121.22,544.57 125.00,543.60 C128.78,542.63 134.90,540.00 139.90,539.20 C144.90,538.40 149.98,538.53 155.00,538.80 C160.02,539.07 165.00,540.02 170.00,540.80 C175.00,541.58 180.67,542.43 185.00,543.50 C189.33,544.57 191.92,545.57 196.00,547.20 C200.08,548.83 204.98,550.58 209.50,553.30 C214.02,556.02 218.58,559.67 223.10,563.50 C227.62,567.33 233.45,573.13 236.60,576.30 C239.75,579.47 240.20,580.25 242.00,582.50 C243.80,584.75 246.50,588.58 247.40,589.80" fill="none" stroke="#008000" stroke-width="1.0" shape-rendering="crispEdges"/>
<path d="M56.80,610.50 C56.93,609.92 56.75,609.12 57.60,607.00 C58.45,604.88 60.48,600.75 61.90,597.80 C63.32,594.85 64.53,592.00 66.10,589.30 C67.67,586.60 69.43,584.03 71.30,581.60 C73.17,579.17 75.30,576.85 77.30,574.70 C79.30,572.55 81.30,570.55 83.30,568.70 C85.30,566.85 87.03,565.67 89.30,563.60 C91.57,561.53 94.50,558.48 96.90,556.30 C99.30,554.12 101.45,552.10 103.70,550.50 C105.95,548.90 108.15,547.73 110.40,546.70 C112.65,545.67 114.77,545.10 117.20,544.30 C119.63,543.50 122.03,542.95 125.00,541.90 C127.97,540.85 131.63,539.15 135.00,538.00 C138.37,536.85 141.03,535.58 145.20,535.00 C149.37,534.42 155.87,534.42 160.00,534.50 C164.13,534.58 164.78,534.68 170.00,535.50 C175.22,536.32 184.63,537.57 191.30,539.40 C197.97,541.23 204.22,543.73 210.00,546.50 C215.78,549.27 221.33,552.75 226.00,556.00 C230.67,559.25 234.67,562.67 238.00,566.00 C241.33,569.33 243.83,573.17 246.00,576.00 C248.17,578.83 249.62,580.75 251.00,583.00 C252.38,585.25 253.75,588.42 254.30,589.50" fill="none" stroke="#008000" stroke-width="1.0" shape-rendering="crispEdges"/>
<rect x="457.48" y="611.67" width="5.80" height="5.80" fill="#000" stroke="#000" stroke-width="0.9"/>
<rect x="458.16" y="610.01" width="5.80" height="5.80" fill="#000" stroke="#000" stroke-width="0.9"/>
<rect x="458.94" y="608.39" width="5.80" height="5.80" fill="#000" stroke="#000" stroke-width="0.9"/>
<rect x="459.88" y="606.85" width="5.80" height="5.80" fill="#000" stroke="#000" stroke-width="0.9"/>
<rect x="460.94" y="605.40" width="5.80" height="5.80" fill="#000" stroke="#000" stroke-width="0.9"/>
<rect x="462.14" y="604.06" width="5.80" height="5.80" fill="#000" stroke="#000" stroke-width="0.9"/>
<rect x="463.49" y="602.87" width="5.80" height="5.80" fill="#000" stroke="#000" stroke-width="0.9"/>
<rect x="464.96" y="601.82" width="5.80" height="5.80" fill="#000" stroke="#000" stroke-width="0.9"/>
<rect x="466.48" y="600.87" width="5.80" height="5.80" fill="#000" stroke="#000" stroke-width="0.9"/>
<rect x="468.05" y="599.99" width="5.80" height="5.80" fill="#000" stroke="#000" stroke-width="0.9"/>
<rect x="469.67" y="599.20" width="5.80" height="5.80" fill="#000" stroke="#000" stroke-width="0.9"/>
<rect x="471.33" y="598.51" width="5.80" height="5.80" fill="#000" stroke="#000" stroke-width="0.9"/>
<rect x="473.04" y="597.95" width="5.80" height="5.80" fill="#000" stroke="#000" stroke-width="0.9"/>
<rect x="474.82" y="597.68" width="5.80" height="5.80" fill="#000" stroke="#000" stroke-width="0.9"/>
<rect x="476.61" y="597.51" width="5.80" height="5.80" fill="#000" stroke="#000" stroke-width="0.9"/>
<rect x="478.41" y="597.38" width="5.80" height="5.80" fill="#000" stroke="#000" stroke-width="0.9"/>
<rect x="480.20" y="597.28" width="5.80" height="5.80" fill="#000" stroke="#000" stroke-width="0.9"/>
<rect x="482.00" y="597.20" width="5.80" height="5.80" fill="#000" stroke="#000" stroke-width="0.9"/>
<rect x="483.80" y="597.15" width="5.80" height="5.80" fill="#000" stroke="#000" stroke-width="0.9"/>
<rect x="485.60" y="597.11" width="5.80" height="5.80" fill="#000" stroke="#000" stroke-width="0.9"/>
<rect x="487.40" y="597.10" width="5.80" height="5.80" fill="#000" stroke="#000" stroke-width="0.9"/>
<rect x="489.20" y="597.11" width="5.80" height="5.80" fill="#000" stroke="#000" stroke-width="0.9"/>
<rect x="491.00" y="597.14" width="5.80" height="5.80" fill="#000" stroke="#000" stroke-width="0.9"/>
<rect x="492.80" y="597.18" width="5.80" height="5.80" fill="#000" stroke="#000" stroke-width="0.9"/>
<rect x="494.60" y="597.23" width="5.80" height="5.80" fill="#000" stroke="#000" stroke-width="0.9"/>
<rect x="496.40" y="597.30" width="5.80" height="5.80" fill="#000" stroke="#000" stroke-width="0.9"/>
<rect x="498.20" y="597.38" width="5.80" height="5.80" fill="#000" stroke="#000" stroke-width="0.9"/>
<rect x="499.99" y="597.50" width="5.80" height="5.80" fill="#000" stroke="#000" stroke-width="0.9"/>
<rect x="501.78" y="597.66" width="5.80" height="5.80" fill="#000" stroke="#000" stroke-width="0.9"/>
<rect x="503.56" y="597.94" width="5.80" height="5.80" fill="#000" stroke="#000" stroke-width="0.9"/>
<rect x="505.30" y="598.41" width="5.80" height="5.80" fill="#000" stroke="#000" stroke-width="0.9"/>
<rect x="506.98" y="599.05" width="5.80" height="5.80" fill="#000" stroke="#000" stroke-width="0.9"/>
<rect x="508.62" y="599.78" width="5.80" height="5.80" fill="#000" stroke="#000" stroke-width="0.9"/>
<rect x="510.16" y="600.72" width="5.80" height="5.80" fill="#000" stroke="#000" stroke-width="0.9"/>
<rect x="511.64" y="601.75" width="5.80" height="5.80" fill="#000" stroke="#000" stroke-width="0.9"/>
<rect x="513.08" y="602.83" width="5.80" height="5.80" fill="#000" stroke="#000" stroke-width="0.9"/>
<rect x="514.45" y="603.99" width="5.80" height="5.80" fill="#000" stroke="#000" stroke-width="0.9"/>
<rect x="515.73" y="605.26" width="5.80" height="5.80" fill="#000" stroke="#000" stroke-width="0.9"/>
<rect x="516.90" y="606.63" width="5.80" height="5.80" fill="#000" stroke="#000" stroke-width="0.9"/>
<rect x="517.98" y="608.06" width="5.80" height="5.80" fill="#000" stroke="#000" stroke-width="0.9"/>
<rect x="518.83" y="609.64" width="5.80" height="5.80" fill="#000" stroke="#000" stroke-width="0.9"/>
<path d="M460.31,611.03 L463.51,617.43 L457.11,617.43Z" fill="#000" stroke="#000" stroke-width="0.9"/>
<path d="M460.85,609.31 L464.05,615.71 L457.65,615.71Z" fill="#000" stroke="#000" stroke-width="0.9"/>
<path d="M461.47,607.62 L464.67,614.02 L458.27,614.02Z" fill="#000" stroke="#000" stroke-width="0.9"/>
<path d="M462.26,606.00 L465.46,612.40 L459.06,612.40Z" fill="#000" stroke="#000" stroke-width="0.9"/>
<path d="M463.17,604.45 L466.37,610.85 L459.97,610.85Z" fill="#000" stroke="#000" stroke-width="0.9"/>
<path d="M464.15,602.95 L467.35,609.35 L460.95,609.35Z" fill="#000" stroke="#000" stroke-width="0.9"/>
<path d="M465.21,601.49 L468.41,607.89 L462.01,607.89Z" fill="#000" stroke="#000" stroke-width="0.9"/>
<path d="M466.33,600.08 L469.53,606.48 L463.13,606.48Z" fill="#000" stroke="#000" stroke-width="0.9"/>
<path d="M467.49,598.70 L470.69,605.10 L464.29,605.10Z" fill="#000" stroke="#000" stroke-width="0.9"/>
<path d="M468.71,597.38 L471.91,603.78 L465.51,603.78Z" fill="#000" stroke="#000" stroke-width="0.9"/>
<path d="M470.05,596.18 L473.25,602.58 L466.85,602.58Z" fill="#000" stroke="#000" stroke-width="0.9"/>
<path d="M471.52,595.15 L474.72,601.55 L468.32,601.55Z" fill="#000" stroke="#000" stroke-width="0.9"/>
<path d="M473.10,594.29 L476.30,600.69 L469.90,600.69Z" fill="#000" stroke="#000" stroke-width="0.9"/>
<path d="M474.75,593.57 L477.95,599.97 L471.55,599.97Z" fill="#000" stroke="#000" stroke-width="0.9"/>
<path d="M476.44,592.96 L479.64,599.36 L473.24,599.36Z" fill="#000" stroke="#000" stroke-width="0.9"/>
<path d="M478.17,592.43 L481.37,598.83 L474.97,598.83Z" fill="#000" stroke="#000" stroke-width="0.9"/>
<path d="M479.91,591.99 L483.11,598.39 L476.71,598.39Z" fill="#000" stroke="#000" stroke-width="0.9"/>
<path d="M481.67,591.62 L484.87,598.02 L478.47,598.02Z" fill="#000" stroke="#000" stroke-width="0.9"/>
<path d="M483.44,591.31 L486.64,597.71 L480.24,597.71Z" fill="#000" stroke="#000" stroke-width="0.9"/>
<path d="M485.23,591.06 L488.43,597.46 L482.03,597.46Z" fill="#000" stroke="#000" stroke-width="0.9"/>
<path d="M487.02,590.87 L490.22,597.27 L483.82,597.27Z" fill="#000" stroke="#000" stroke-width="0.9"/>
<path d="M488.81,590.77 L492.01,597.17 L485.61,597.17Z" fill="#000" stroke="#000" stroke-width="0.9"/>
<path d="M490.61,590.75 L493.81,597.15 L487.41,597.15Z" fill="#000" stroke="#000" stroke-width="0.9"/>
<path d="M492.41,590.82 L495.61,597.22 L489.21,597.22Z" fill="#000" stroke="#000" stroke-width="0.9"/>
<path d="M494.21,590.93 L497.41,597.33 L491.01,597.33Z" fill="#000" stroke="#000" stroke-width="0.9"/>
<path d="M496.00,591.06 L499.20,597.46 L492.80,597.46Z" fill="#000" stroke="#000" stroke-width="0.9"/>
<path d="M497.80,591.23 L501.00,597.63 L494.60,597.63Z" fill="#000" stroke="#000" stroke-width="0.9"/>
<path d="M499.58,591.43 L502.78,597.83 L496.38,597.83Z" fill="#000" stroke="#000" stroke-width="0.9"/>
<path d="M501.37,591.66 L504.57,598.06 L498.17,598.06Z" fill="#000" stroke="#000" stroke-width="0.9"/>
<path d="M503.15,591.93 L506.35,598.33 L499.95,598.33Z" fill="#000" stroke="#000" stroke-width="0.9"/>
<path d="M504.93,592.22 L508.13,598.62 L501.73,598.62Z" fill="#000" stroke="#000" stroke-width="0.9"/>
<path d="M506.70,592.54 L509.90,598.94 L503.50,598.94Z" fill="#000" stroke="#000" stroke-width="0.9"/>
<path d="M508.46,592.90 L511.66,599.30 L505.26,599.30Z" fill="#000" stroke="#000" stroke-width="0.9"/>
<path d="M510.22,593.29 L513.42,599.69 L507.02,599.69Z" fill="#000" stroke="#000" stroke-width="0.9"/>
<path d="M511.97,593.71 L515.17,600.11 L508.77,600.11Z" fill="#000" stroke="#000" stroke-width="0.9"/>
<path d="M513.71,594.17 L516.91,600.57 L510.51,600.57Z" fill="#000" stroke="#000" stroke-width="0.9"/>
<path d="M515.44,594.66 L518.64,601.06 L512.24,601.06Z" fill="#000" stroke="#000" stroke-width="0.9"/>
<path d="M517.16,595.18 L520.36,601.58 L513.96,601.58Z" fill="#000" stroke="#000" stroke-width="0.9"/>
<path d="M518.88,595.72 L522.08,602.12 L515.68,602.12Z" fill="#000" stroke="#000" stroke-width="0.9"/>
<path d="M520.59,596.30 L523.79,602.70 L517.39,602.70Z" fill="#000" stroke="#000" stroke-width="0.9"/>
<path d="M522.28,596.90 L525.48,603.30 L519.08,603.30Z" fill="#000" stroke="#000" stroke-width="0.9"/>
<path d="M523.96,597.55 L527.16,603.95 L520.76,603.95Z" fill="#000" stroke="#000" stroke-width="0.9"/>
<path d="M525.61,598.26 L528.81,604.66 L522.41,604.66Z" fill="#000" stroke="#000" stroke-width="0.9"/>
<path d="M527.24,599.04 L530.44,605.44 L524.04,605.44Z" fill="#000" stroke="#000" stroke-width="0.9"/>
<path d="M528.83,599.88 L532.03,606.28 L525.63,606.28Z" fill="#000" stroke="#000" stroke-width="0.9"/>
<path d="M530.38,600.80 L533.58,607.20 L527.18,607.20Z" fill="#000" stroke="#000" stroke-width="0.9"/>
<path d="M531.88,601.78 L535.08,608.18 L528.68,608.18Z" fill="#000" stroke="#000" stroke-width="0.9"/>
<path d="M533.37,602.80 L536.57,609.20 L530.17,609.20Z" fill="#000" stroke="#000" stroke-width="0.9"/>
<path d="M460.37,610.07 L463.77,613.98 L460.37,617.89 L456.97,613.98Z" fill="#000" stroke="#000" stroke-width="0.9"/>
<path d="M462.94,608.00 L466.34,611.91 L462.94,615.82 L459.54,611.91Z" fill="#000" stroke="#000" stroke-width="0.9"/>
<path d="M464.73,604.34 L468.13,608.25 L464.73,612.16 L461.33,608.25Z" fill="#000" stroke="#000" stroke-width="0.9"/>
<path d="M467.47,602.40 L470.87,606.31 L467.47,610.22 L464.07,606.31Z" fill="#000" stroke="#000" stroke-width="0.9"/>
<path d="M469.62,599.07 L473.02,602.98 L469.62,606.89 L466.22,602.98Z" fill="#000" stroke="#000" stroke-width="0.9"/>
<path d="M472.67,597.43 L476.07,601.34 L472.67,605.25 L469.27,601.34Z" fill="#000" stroke="#000" stroke-width="0.9"/>
<path d="M474.93,594.20 L478.33,598.11 L474.93,602.02 L471.53,598.11Z" fill="#000" stroke="#000" stroke-width="0.9"/>
<path d="M477.97,592.56 L481.37,596.47 L477.97,600.38 L474.57,596.47Z" fill="#000" stroke="#000" stroke-width="0.9"/>
<path d="M480.35,589.47 L483.75,593.38 L480.35,597.29 L476.95,593.38Z" fill="#000" stroke="#000" stroke-width="0.9"/>
<path d="M483.73,588.26 L487.13,592.17 L483.73,596.08 L480.33,592.17Z" fill="#000" stroke="#000" stroke-width="0.9"/>
<path d="M486.37,585.52 L489.77,589.43 L486.37,593.34 L482.97,589.43Z" fill="#000" stroke="#000" stroke-width="0.9"/>
<path d="M489.81,584.39 L493.21,588.30 L489.81,592.21 L486.41,588.30Z" fill="#000" stroke="#000" stroke-width="0.9"/>
<path d="M492.67,582.07 L496.07,585.98 L492.67,589.89 L489.27,585.98Z" fill="#000" stroke="#000" stroke-width="0.9"/>
<path d="M496.49,581.75 L499.89,585.66 L496.49,589.57 L493.09,585.66Z" fill="#000" stroke="#000" stroke-width="0.9"/>
<path d="M499.62,580.30 L503.02,584.21 L499.62,588.12 L496.22,584.21Z" fill="#000" stroke="#000" stroke-width="0.9"/>
<path d="M503.60,580.67 L507.00,584.58 L503.60,588.49 L500.20,584.58Z" fill="#000" stroke="#000" stroke-width="0.9"/>
<path d="M506.79,579.57 L510.19,583.48 L506.79,587.39 L503.39,583.48Z" fill="#000" stroke="#000" stroke-width="0.9"/>
<path d="M510.78,580.18 L514.18,584.09 L510.78,588.00 L507.38,584.09Z" fill="#000" stroke="#000" stroke-width="0.9"/>
<path d="M513.98,579.39 L517.38,583.30 L513.98,587.21 L510.58,583.30Z" fill="#000" stroke="#000" stroke-width="0.9"/>
<path d="M517.98,580.33 L521.38,584.24 L517.98,588.15 L514.58,584.24Z" fill="#000" stroke="#000" stroke-width="0.9"/>
<path d="M521.17,579.67 L524.57,583.58 L521.17,587.49 L517.77,583.58Z" fill="#000" stroke="#000" stroke-width="0.9"/>
<path d="M525.17,580.52 L528.57,584.43 L525.17,588.34 L521.77,584.43Z" fill="#000" stroke="#000" stroke-width="0.9"/>
<path d="M528.37,579.76 L531.77,583.67 L528.37,587.58 L524.97,583.67Z" fill="#000" stroke="#000" stroke-width="0.9"/>
<path d="M532.37,580.55 L535.77,584.46 L532.37,588.37 L528.97,584.46Z" fill="#000" stroke="#000" stroke-width="0.9"/>
<path d="M535.57,579.65 L538.97,583.56 L535.57,587.47 L532.17,583.56Z" fill="#000" stroke="#000" stroke-width="0.9"/>
<path d="M539.55,580.11 L542.95,584.02 L539.55,587.93 L536.15,584.02Z" fill="#000" stroke="#000" stroke-width="0.9"/>
<path d="M542.71,577.97 L546.11,581.88 L542.71,585.79 L539.31,581.88Z" fill="#000" stroke="#000" stroke-width="0.9"/>
<path d="M546.64,577.13 L550.04,581.04 L546.64,584.95 L543.24,581.04Z" fill="#000" stroke="#000" stroke-width="0.9"/>
<path d="M549.67,574.32 L553.07,578.23 L549.67,582.14 L546.27,578.23Z" fill="#000" stroke="#000" stroke-width="0.9"/>
<path d="M553.47,573.08 L556.87,576.99 L553.47,580.90 L550.07,576.99Z" fill="#000" stroke="#000" stroke-width="0.9"/>
<path d="M556.42,570.98 L559.82,574.89 L556.42,578.80 L553.02,574.89Z" fill="#000" stroke="#000" stroke-width="0.9"/>
<path d="M560.11,570.32 L563.51,574.23 L560.11,578.14 L556.71,574.23Z" fill="#000" stroke="#000" stroke-width="0.9"/>
<path d="M562.90,567.85 L566.30,571.76 L562.90,575.67 L559.50,571.76Z" fill="#000" stroke="#000" stroke-width="0.9"/>
<path d="M566.43,566.86 L569.83,570.77 L566.43,574.68 L563.03,570.77Z" fill="#000" stroke="#000" stroke-width="0.9"/>
<path d="M569.12,564.21 L572.52,568.12 L569.12,572.03 L565.72,568.12Z" fill="#000" stroke="#000" stroke-width="0.9"/>
<path d="M572.48,562.97 L575.88,566.88 L572.48,570.79 L569.08,566.88Z" fill="#000" stroke="#000" stroke-width="0.9"/>
<path d="M575.05,560.14 L578.45,564.05 L575.05,567.96 L571.65,564.05Z" fill="#000" stroke="#000" stroke-width="0.9"/>
<path d="M578.44,558.99 L581.84,562.90 L578.44,566.81 L575.04,562.90Z" fill="#000" stroke="#000" stroke-width="0.9"/>
<path d="M581.01,556.90 L584.41,560.81 L581.01,564.72 L577.61,560.81Z" fill="#000" stroke="#000" stroke-width="0.9"/>
<path d="M587.00,561.09 L590.40,565.00 L587.00,568.91 L583.60,565.00Z" fill="#000" stroke="#000" stroke-width="0.9"/>
<path d="M595.10,554.49 L598.50,558.40 L595.10,562.31 L591.70,558.40Z" fill="#000" stroke="#000" stroke-width="0.9"/>
<path d="M604.90,549.69 L608.30,553.60 L604.90,557.51 L601.50,553.60Z" fill="#000" stroke="#000" stroke-width="0.9"/>
<path d="M616.00,544.19 L619.40,548.10 L616.00,552.01 L612.60,548.10Z" fill="#000" stroke="#000" stroke-width="0.9"/>
<path d="M627.60,538.69 L631.00,542.60 L627.60,546.51 L624.20,542.60Z" fill="#000" stroke="#000" stroke-width="0.9"/>
<path d="M639.30,531.89 L642.70,535.80 L639.30,539.71 L635.90,535.80Z" fill="#000" stroke="#000" stroke-width="0.9"/>
<path d="M652.80,525.19 L656.20,529.10 L652.80,533.01 L649.40,529.10Z" fill="#000" stroke="#000" stroke-width="0.9"/>
<path d="M666.30,518.39 L669.70,522.30 L666.30,526.21 L662.90,522.30Z" fill="#000" stroke="#000" stroke-width="0.9"/>
<path d="M681.70,512.49 L685.10,516.40 L681.70,520.31 L678.30,516.40Z" fill="#000" stroke="#000" stroke-width="0.9"/>
<path d="M457.49,611.66 L463.89,615.18 L457.49,618.70Z" fill="#000" stroke="#000" stroke-width="0.9"/>
<path d="M459.35,610.55 L465.75,614.07 L459.35,617.59Z" fill="#000" stroke="#000" stroke-width="0.9"/>
<path d="M460.38,607.83 L466.78,611.35 L460.38,614.87Z" fill="#000" stroke="#000" stroke-width="0.9"/>
<path d="M462.25,606.73 L468.65,610.25 L462.25,613.77Z" fill="#000" stroke="#000" stroke-width="0.9"/>
<path d="M463.38,604.08 L469.78,607.60 L463.38,611.12Z" fill="#000" stroke="#000" stroke-width="0.9"/>
<path d="M465.41,603.12 L471.81,606.64 L465.41,610.16Z" fill="#000" stroke="#000" stroke-width="0.9"/>
<path d="M466.70,600.62 L473.10,604.14 L466.70,607.66Z" fill="#000" stroke="#000" stroke-width="0.9"/>
<path d="M468.85,599.77 L475.25,603.29 L468.85,606.81Z" fill="#000" stroke="#000" stroke-width="0.9"/>
<path d="M470.24,597.38 L476.64,600.90 L470.24,604.42Z" fill="#000" stroke="#000" stroke-width="0.9"/>
<path d="M472.47,596.62 L478.87,600.14 L472.47,603.66Z" fill="#000" stroke="#000" stroke-width="0.9"/>
<path d="M473.89,594.26 L480.29,597.78 L473.89,601.30Z" fill="#000" stroke="#000" stroke-width="0.9"/>
<path d="M476.13,593.51 L482.53,597.03 L476.13,600.55Z" fill="#000" stroke="#000" stroke-width="0.9"/>
<path d="M477.59,591.20 L483.99,594.72 L477.59,598.24Z" fill="#000" stroke="#000" stroke-width="0.9"/>
<path d="M479.90,590.55 L486.30,594.07 L479.90,597.59Z" fill="#000" stroke="#000" stroke-width="0.9"/>
<path d="M481.48,588.39 L487.88,591.91 L481.48,595.43Z" fill="#000" stroke="#000" stroke-width="0.9"/>
<path d="M483.94,587.95 L490.34,591.47 L483.94,594.99Z" fill="#000" stroke="#000" stroke-width="0.9"/>
<path d="M485.65,586.02 L492.05,589.54 L485.65,593.06Z" fill="#000" stroke="#000" stroke-width="0.9"/>
<path d="M488.22,585.79 L494.62,589.31 L488.22,592.83Z" fill="#000" stroke="#000" stroke-width="0.9"/>
<path d="M490.03,584.06 L496.43,587.58 L490.03,591.10Z" fill="#000" stroke="#000" stroke-width="0.9"/>
<path d="M492.69,584.05 L499.09,587.57 L492.69,591.09Z" fill="#000" stroke="#000" stroke-width="0.9"/>
<path d="M494.59,582.57 L500.99,586.09 L494.59,589.61Z" fill="#000" stroke="#000" stroke-width="0.9"/>
<path d="M497.33,582.86 L503.73,586.38 L497.33,589.90Z" fill="#000" stroke="#000" stroke-width="0.9"/>
<path d="M499.31,581.75 L505.71,585.27 L499.31,588.79Z" fill="#000" stroke="#000" stroke-width="0.9"/>
<path d="M502.11,582.39 L508.51,585.91 L502.11,589.43Z" fill="#000" stroke="#000" stroke-width="0.9"/>
<path d="M504.11,581.53 L510.51,585.05 L504.11,588.57Z" fill="#000" stroke="#000" stroke-width="0.9"/>
<path d="M506.91,582.29 L513.31,585.81 L506.91,589.33Z" fill="#000" stroke="#000" stroke-width="0.9"/>
<path d="M508.91,581.48 L515.31,585.00 L508.91,588.52Z" fill="#000" stroke="#000" stroke-width="0.9"/>
<path d="M511.71,582.35 L518.11,585.87 L511.71,589.39Z" fill="#000" stroke="#000" stroke-width="0.9"/>
<path d="M513.70,581.68 L520.10,585.20 L513.70,588.72Z" fill="#000" stroke="#000" stroke-width="0.9"/>
<path d="M516.50,582.63 L522.90,586.15 L516.50,589.67Z" fill="#000" stroke="#000" stroke-width="0.9"/>
<path d="M518.50,581.95 L524.90,585.47 L518.50,588.99Z" fill="#000" stroke="#000" stroke-width="0.9"/>
<path d="M521.29,582.82 L527.69,586.34 L521.29,589.86Z" fill="#000" stroke="#000" stroke-width="0.9"/>
<path d="M523.29,582.09 L529.69,585.61 L523.29,589.13Z" fill="#000" stroke="#000" stroke-width="0.9"/>
<path d="M526.09,582.95 L532.49,586.47 L526.09,589.99Z" fill="#000" stroke="#000" stroke-width="0.9"/>
<path d="M528.09,582.19 L534.49,585.71 L528.09,589.23Z" fill="#000" stroke="#000" stroke-width="0.9"/>
<path d="M530.89,583.00 L537.29,586.52 L530.89,590.04Z" fill="#000" stroke="#000" stroke-width="0.9"/>
<path d="M532.89,582.15 L539.29,585.67 L532.89,589.19Z" fill="#000" stroke="#000" stroke-width="0.9"/>
<path d="M535.68,582.77 L542.08,586.29 L535.68,589.81Z" fill="#000" stroke="#000" stroke-width="0.9"/>
<path d="M537.66,581.50 L544.06,585.02 L537.66,588.54Z" fill="#000" stroke="#000" stroke-width="0.9"/>
<path d="M540.44,581.48 L546.84,585.00 L540.44,588.52Z" fill="#000" stroke="#000" stroke-width="0.9"/>
<path d="M542.42,579.85 L548.82,583.37 L542.42,586.89Z" fill="#000" stroke="#000" stroke-width="0.9"/>
<path d="M545.15,579.56 L551.55,583.08 L545.15,586.60Z" fill="#000" stroke="#000" stroke-width="0.9"/>
<path d="M547.03,577.53 L553.43,581.05 L547.03,584.57Z" fill="#000" stroke="#000" stroke-width="0.9"/>
<path d="M549.70,577.05 L556.10,580.57 L549.70,584.09Z" fill="#000" stroke="#000" stroke-width="0.9"/>
<path d="M551.55,575.28 L557.95,578.80 L551.55,582.32Z" fill="#000" stroke="#000" stroke-width="0.9"/>
<path d="M554.19,575.22 L560.59,578.74 L554.19,582.26Z" fill="#000" stroke="#000" stroke-width="0.9"/>
<path d="M556.01,573.52 L562.41,577.04 L556.01,580.56Z" fill="#000" stroke="#000" stroke-width="0.9"/>
<path d="M558.60,573.34 L565.00,576.86 L558.60,580.38Z" fill="#000" stroke="#000" stroke-width="0.9"/>
<path d="M560.36,571.50 L566.76,575.02 L560.36,578.54Z" fill="#000" stroke="#000" stroke-width="0.9"/>
<path d="M562.91,571.23 L569.31,574.75 L562.91,578.27Z" fill="#000" stroke="#000" stroke-width="0.9"/>
<path d="M564.67,569.39 L571.07,572.91 L564.67,576.43Z" fill="#000" stroke="#000" stroke-width="0.9"/>
<path d="M567.28,569.25 L573.68,572.77 L567.28,576.29Z" fill="#000" stroke="#000" stroke-width="0.9"/>
<path d="M569.13,567.60 L575.53,571.12 L569.13,574.64Z" fill="#000" stroke="#000" stroke-width="0.9"/>
<path d="M571.68,567.34 L578.08,570.86 L571.68,574.38Z" fill="#000" stroke="#000" stroke-width="0.9"/>
<path d="M573.39,565.40 L579.79,568.92 L573.39,572.44Z" fill="#000" stroke="#000" stroke-width="0.9"/>
<path d="M575.88,565.14 L582.28,568.66 L575.88,572.18Z" fill="#000" stroke="#000" stroke-width="0.9"/>
<path d="M577.57,563.57 L583.97,567.09 L577.57,570.61Z" fill="#000" stroke="#000" stroke-width="0.9"/>
<path d="M580.05,563.59 L586.45,567.11 L580.05,570.63Z" fill="#000" stroke="#000" stroke-width="0.9"/>
<path d="M583.62,562.78 L590.02,566.30 L583.62,569.82Z" fill="#000" stroke="#000" stroke-width="0.9"/>
<path d="M591.92,557.58 L598.32,561.10 L591.92,564.62Z" fill="#000" stroke="#000" stroke-width="0.9"/>
<path d="M602.02,552.08 L608.42,555.60 L602.02,559.12Z" fill="#000" stroke="#000" stroke-width="0.9"/>
<path d="M613.12,548.38 L619.52,551.90 L613.12,555.42Z" fill="#000" stroke="#000" stroke-width="0.9"/>
<path d="M624.72,542.88 L631.12,546.40 L624.72,549.92Z" fill="#000" stroke="#000" stroke-width="0.9"/>
<path d="M636.42,537.38 L642.82,540.90 L636.42,544.42Z" fill="#000" stroke="#000" stroke-width="0.9"/>
<path d="M649.92,530.58 L656.32,534.10 L649.92,537.62Z" fill="#000" stroke="#000" stroke-width="0.9"/>
<path d="M663.42,525.68 L669.82,529.20 L663.42,532.72Z" fill="#000" stroke="#000" stroke-width="0.9"/>
<path d="M673.82,522.98 L680.22,526.50 L673.82,530.02Z" fill="#000" stroke="#000" stroke-width="0.9"/>
<path d="M478.50,600.50 C480.42,600.42 485.73,600.00 490.00,600.00 C494.27,600.00 500.77,600.17 504.10,600.50 C507.43,600.83 508.37,601.38 510.00,602.00 C511.63,602.62 512.57,603.28 513.90,604.20 C515.23,605.12 516.77,606.27 518.00,607.50 C519.23,608.73 520.63,610.52 521.30,611.60 C521.97,612.68 521.88,613.60 522.00,614.00" fill="none" stroke="#008000" stroke-width="1.0" shape-rendering="crispEdges"/>
<path d="M486.90,594.40 C488.25,594.42 492.13,594.30 495.00,594.50 C497.87,594.70 501.10,595.10 504.10,595.60 C507.10,596.10 509.93,596.68 513.00,597.50 C516.07,598.32 519.83,599.50 522.50,600.50 C525.17,601.50 526.95,602.37 529.00,603.50 C531.05,604.63 533.83,606.67 534.80,607.30" fill="none" stroke="#008000" stroke-width="1.0" shape-rendering="crispEdges"/>
<path d="M460.00,615.50 C460.18,615.25 459.93,615.50 461.10,614.00 C462.27,612.50 464.75,608.95 467.00,606.50 C469.25,604.05 472.43,601.30 474.60,599.30 C476.77,597.30 478.15,595.93 480.00,594.50 C481.85,593.07 483.87,591.87 485.70,590.70 C487.53,589.53 488.95,588.42 491.00,587.50 C493.05,586.58 494.78,585.78 498.00,585.20 C501.22,584.62 506.22,584.15 510.30,584.00 C514.38,583.85 518.38,584.25 522.50,584.30 C526.62,584.35 531.75,584.43 535.00,584.30 C538.25,584.17 539.88,583.83 542.00,583.50 C544.12,583.17 544.92,583.18 547.70,582.30 C550.48,581.42 555.28,579.75 558.70,578.20 C562.12,576.65 565.70,574.48 568.20,573.00 C570.70,571.52 570.97,571.17 573.70,569.30 C576.43,567.43 580.22,564.98 584.60,561.80 C588.98,558.62 594.93,553.50 600.00,550.20 C605.07,546.90 610.30,544.52 615.00,542.00 C619.70,539.48 624.03,536.93 628.20,535.10 C632.37,533.27 635.90,532.12 640.00,531.00 C644.10,529.88 648.22,529.07 652.80,528.40 C657.38,527.73 662.38,527.20 667.50,527.00 C672.62,526.80 680.83,527.17 683.50,527.20" fill="none" stroke="#008000" stroke-width="1.0" shape-rendering="crispEdges"/>
<path d="M460.00,615.50 C460.18,615.25 459.93,615.50 461.10,614.00 C462.27,612.50 464.75,608.95 467.00,606.50 C469.25,604.05 471.48,601.93 474.60,599.30 C477.72,596.67 481.80,593.00 485.70,590.70 C489.60,588.40 493.90,586.53 498.00,585.50 C502.10,584.47 506.22,584.58 510.30,584.50 C514.38,584.42 518.38,584.88 522.50,585.00 C526.62,585.12 531.75,585.28 535.00,585.20 C538.25,585.12 539.88,584.78 542.00,584.50 C544.12,584.22 544.92,584.33 547.70,583.50 C550.48,582.67 555.28,580.92 558.70,579.50 C562.12,578.08 565.70,576.13 568.20,575.00 C570.70,573.87 570.97,574.10 573.70,572.70 C576.43,571.30 580.22,569.10 584.60,566.60 C588.98,564.10 594.93,560.63 600.00,557.70 C605.07,554.77 610.30,551.55 615.00,549.00 C619.70,546.45 624.03,544.23 628.20,542.40 C632.37,540.57 635.90,539.30 640.00,538.00 C644.10,536.70 648.63,535.47 652.80,534.60 C656.97,533.73 660.92,533.22 665.00,532.80 C669.08,532.38 675.25,532.22 677.30,532.10" fill="none" stroke="#008000" stroke-width="1.0" shape-rendering="crispEdges"/>
</svg></body></html>
